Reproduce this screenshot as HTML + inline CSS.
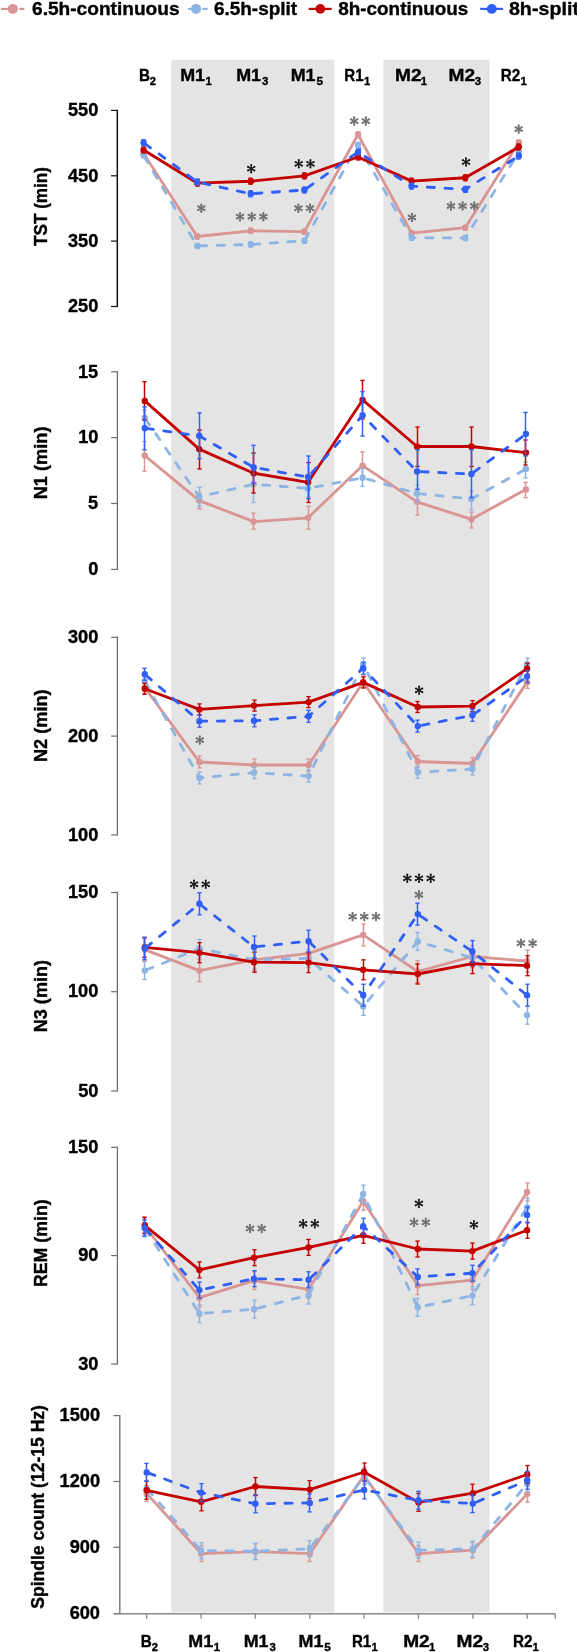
<!DOCTYPE html>
<html><head><meta charset="utf-8"><title>Sleep chart</title>
<style>
html,body{margin:0;padding:0;background:#fff;}
body{width:577px;height:1652px;overflow:hidden;}
svg{display:block;font-family:"Liberation Sans", sans-serif;will-change:transform;}
</style></head>
<body>
<svg width="577" height="1652" viewBox="0 0 577 1652">
<rect width="577" height="1652" fill="#fff"/>
<defs><g id="ast" fill="currentColor" stroke="currentColor"><path d="M0,-3.7V3.7M-3.2,-1.85L3.2,1.85M-3.2,1.85L3.2,-1.85" stroke-width="1.5" fill="none"/><circle cx="0" cy="-3.7" r="1.05" stroke="none"/><circle cx="0" cy="3.7" r="1.05" stroke="none"/><circle cx="-3.2" cy="-1.85" r="1.05" stroke="none"/><circle cx="3.2" cy="-1.85" r="1.05" stroke="none"/><circle cx="-3.2" cy="1.85" r="1.05" stroke="none"/><circle cx="3.2" cy="1.85" r="1.05" stroke="none"/><circle cx="0" cy="0" r="1.3" stroke="none"/></g><g id="astg" fill="currentColor" stroke="currentColor"><path d="M0,-3.7V3.7M-3.2,-1.85L3.2,1.85M-3.2,1.85L3.2,-1.85" stroke-width="1.75" fill="none"/><circle cx="0" cy="-3.7" r="1.1" stroke="none"/><circle cx="0" cy="3.7" r="1.1" stroke="none"/><circle cx="-3.2" cy="-1.85" r="1.1" stroke="none"/><circle cx="3.2" cy="-1.85" r="1.1" stroke="none"/><circle cx="-3.2" cy="1.85" r="1.1" stroke="none"/><circle cx="3.2" cy="1.85" r="1.1" stroke="none"/><circle cx="0" cy="0" r="1.3" stroke="none"/></g></defs>
<rect x="171.2" y="59.7" width="163.0" height="1552.6" fill="#E4E4E4"/>
<rect x="383.5" y="59.7" width="106.0" height="1552.6" fill="#E4E4E4"/>
<line x1="1" y1="8.9" x2="12.7" y2="8.9" stroke="#D99594" stroke-width="2.2"/>
<line x1="19.2" y1="8.9" x2="24.4" y2="8.9" stroke="#D99594" stroke-width="2.2"/>
<circle cx="12.8" cy="8.9" r="5.0" fill="#D99594"/>
<text transform="translate(32.04,14.60) scale(1.0736,1)" font-size="17.8" font-weight="bold" fill="#000" stroke="#000" stroke-width="0.35">6.5h-continuous</text>
<line x1="188" y1="8.9" x2="196" y2="8.9" stroke="#8DB4E2" stroke-width="2.2"/>
<line x1="202.3" y1="8.9" x2="207.7" y2="8.9" stroke="#8DB4E2" stroke-width="2.2"/>
<circle cx="196.1" cy="8.9" r="5.0" fill="#8DB4E2"/>
<text transform="translate(213.94,14.60) scale(1.0653,1)" font-size="17.8" font-weight="bold" fill="#000" stroke="#000" stroke-width="0.35">6.5h-split</text>
<line x1="308.7" y1="8.9" x2="331.7" y2="8.9" stroke="#C40000" stroke-width="2.2"/>
<circle cx="320.3" cy="8.9" r="4.85" fill="#C40000"/>
<text transform="translate(338.23,14.60) scale(1.0618,1)" font-size="17.8" font-weight="bold" fill="#000" stroke="#000" stroke-width="0.35">8h-continuous</text>
<line x1="480.2" y1="8.9" x2="503.1" y2="8.9" stroke="#305FF6" stroke-width="2.2"/>
<circle cx="491.8" cy="8.9" r="4.95" fill="#305FF6"/>
<text transform="translate(508.91,14.60) scale(1.1076,1)" font-size="17.8" font-weight="bold" fill="#000" stroke="#000" stroke-width="0.35">8h-split</text>
<text transform="translate(138.93,80.70) scale(0.9589,1)" font-size="15.9" font-weight="bold" fill="#000" stroke="#000" stroke-width="0.35">B</text>
<text transform="translate(149.86,84.90) scale(1.0112,1)" font-size="11.1" font-weight="bold" fill="#000" stroke="#000" stroke-width="0.35">2</text>
<text transform="translate(180.15,80.70) scale(1.1262,1)" font-size="15.9" font-weight="bold" fill="#000" stroke="#000" stroke-width="0.35">M1</text>
<text transform="translate(205.62,84.90) scale(1.0159,1)" font-size="11.1" font-weight="bold" fill="#000" stroke="#000" stroke-width="0.35">1</text>
<text transform="translate(236.15,80.70) scale(1.1262,1)" font-size="15.9" font-weight="bold" fill="#000" stroke="#000" stroke-width="0.35">M1</text>
<text transform="translate(262.07,84.90) scale(1.0270,1)" font-size="11.1" font-weight="bold" fill="#000" stroke="#000" stroke-width="0.35">3</text>
<text transform="translate(290.65,80.70) scale(1.1262,1)" font-size="15.9" font-weight="bold" fill="#000" stroke="#000" stroke-width="0.35">M1</text>
<text transform="translate(316.45,84.90) scale(1.0631,1)" font-size="11.1" font-weight="bold" fill="#000" stroke="#000" stroke-width="0.35">5</text>
<text transform="translate(344.34,80.70) scale(0.9487,1)" font-size="15.9" font-weight="bold" fill="#000" stroke="#000" stroke-width="0.35">R1</text>
<text transform="translate(364.02,84.90) scale(1.0159,1)" font-size="11.1" font-weight="bold" fill="#000" stroke="#000" stroke-width="0.35">1</text>
<text transform="translate(395.06,80.70) scale(1.2038,1)" font-size="15.9" font-weight="bold" fill="#000" stroke="#000" stroke-width="0.35">M2</text>
<text transform="translate(420.82,84.90) scale(1.0159,1)" font-size="11.1" font-weight="bold" fill="#000" stroke="#000" stroke-width="0.35">1</text>
<text transform="translate(448.56,80.70) scale(1.2038,1)" font-size="15.9" font-weight="bold" fill="#000" stroke="#000" stroke-width="0.35">M2</text>
<text transform="translate(474.77,84.90) scale(1.0270,1)" font-size="11.1" font-weight="bold" fill="#000" stroke="#000" stroke-width="0.35">3</text>
<text transform="translate(500.83,80.70) scale(0.9622,1)" font-size="15.9" font-weight="bold" fill="#000" stroke="#000" stroke-width="0.35">R2</text>
<text transform="translate(520.42,84.90) scale(1.0159,1)" font-size="11.1" font-weight="bold" fill="#000" stroke="#000" stroke-width="0.35">1</text>
<text transform="translate(140.83,1646.80) scale(0.9589,1)" font-size="15.9" font-weight="bold" fill="#000" stroke="#000" stroke-width="0.35">B</text>
<text transform="translate(151.76,1651.00) scale(1.0112,1)" font-size="11.1" font-weight="bold" fill="#000" stroke="#000" stroke-width="0.35">2</text>
<text transform="translate(188.25,1646.80) scale(1.1262,1)" font-size="15.9" font-weight="bold" fill="#000" stroke="#000" stroke-width="0.35">M1</text>
<text transform="translate(213.72,1651.00) scale(1.0159,1)" font-size="11.1" font-weight="bold" fill="#000" stroke="#000" stroke-width="0.35">1</text>
<text transform="translate(243.65,1646.80) scale(1.1262,1)" font-size="15.9" font-weight="bold" fill="#000" stroke="#000" stroke-width="0.35">M1</text>
<text transform="translate(269.57,1651.00) scale(1.0270,1)" font-size="11.1" font-weight="bold" fill="#000" stroke="#000" stroke-width="0.35">3</text>
<text transform="translate(298.55,1646.80) scale(1.1262,1)" font-size="15.9" font-weight="bold" fill="#000" stroke="#000" stroke-width="0.35">M1</text>
<text transform="translate(324.35,1651.00) scale(1.0631,1)" font-size="11.1" font-weight="bold" fill="#000" stroke="#000" stroke-width="0.35">5</text>
<text transform="translate(351.94,1646.80) scale(0.9487,1)" font-size="15.9" font-weight="bold" fill="#000" stroke="#000" stroke-width="0.35">R1</text>
<text transform="translate(371.62,1651.00) scale(1.0159,1)" font-size="11.1" font-weight="bold" fill="#000" stroke="#000" stroke-width="0.35">1</text>
<text transform="translate(403.16,1646.80) scale(1.2038,1)" font-size="15.9" font-weight="bold" fill="#000" stroke="#000" stroke-width="0.35">M2</text>
<text transform="translate(428.92,1651.00) scale(1.0159,1)" font-size="11.1" font-weight="bold" fill="#000" stroke="#000" stroke-width="0.35">1</text>
<text transform="translate(456.46,1646.80) scale(1.2038,1)" font-size="15.9" font-weight="bold" fill="#000" stroke="#000" stroke-width="0.35">M2</text>
<text transform="translate(482.67,1651.00) scale(1.0270,1)" font-size="11.1" font-weight="bold" fill="#000" stroke="#000" stroke-width="0.35">3</text>
<text transform="translate(512.93,1646.80) scale(0.9622,1)" font-size="15.9" font-weight="bold" fill="#000" stroke="#000" stroke-width="0.35">R2</text>
<text transform="translate(532.52,1651.00) scale(1.0159,1)" font-size="11.1" font-weight="bold" fill="#000" stroke="#000" stroke-width="0.35">1</text>
<line x1="117.3" y1="109.80000000000001" x2="117.3" y2="307.1" stroke="#111" stroke-width="1.5"/>
<line x1="111.0" y1="110.4" x2="117.3" y2="110.4" stroke="#111" stroke-width="1.2"/>
<text transform="translate(67.93,116.10) scale(1.0400,1)" font-size="17.5" font-weight="bold" stroke="#000" stroke-width="0.35">550</text>
<line x1="111.0" y1="175.8" x2="117.3" y2="175.8" stroke="#111" stroke-width="1.2"/>
<text transform="translate(67.93,181.50) scale(1.0400,1)" font-size="17.5" font-weight="bold" stroke="#000" stroke-width="0.35">450</text>
<line x1="111.0" y1="241.1" x2="117.3" y2="241.1" stroke="#111" stroke-width="1.2"/>
<text transform="translate(67.93,246.80) scale(1.0400,1)" font-size="17.5" font-weight="bold" stroke="#000" stroke-width="0.35">350</text>
<line x1="111.0" y1="306.5" x2="117.3" y2="306.5" stroke="#111" stroke-width="1.2"/>
<text transform="translate(67.93,312.20) scale(1.0400,1)" font-size="17.5" font-weight="bold" stroke="#000" stroke-width="0.35">250</text>
<text transform="translate(46.80,245.97) rotate(-90) scale(0.9524,1)" font-size="18.0" font-weight="bold" stroke="#000" stroke-width="0.35">TST (min)</text>
<line x1="143.5" y1="150.9" x2="143.5" y2="155.9" stroke="#D99594" stroke-width="1.5"/>
<line x1="141.3" y1="150.9" x2="145.7" y2="150.9" stroke="#D99594" stroke-width="1.3"/>
<line x1="141.3" y1="155.9" x2="145.7" y2="155.9" stroke="#D99594" stroke-width="1.3"/>
<line x1="197.5" y1="234.0" x2="197.5" y2="239.0" stroke="#D99594" stroke-width="1.5"/>
<line x1="195.3" y1="234.0" x2="199.7" y2="234.0" stroke="#D99594" stroke-width="1.3"/>
<line x1="195.3" y1="239.0" x2="199.7" y2="239.0" stroke="#D99594" stroke-width="1.3"/>
<line x1="250.5" y1="228.3" x2="250.5" y2="233.3" stroke="#D99594" stroke-width="1.5"/>
<line x1="248.3" y1="228.3" x2="252.7" y2="228.3" stroke="#D99594" stroke-width="1.3"/>
<line x1="248.3" y1="233.3" x2="252.7" y2="233.3" stroke="#D99594" stroke-width="1.3"/>
<line x1="304.5" y1="229.1" x2="304.5" y2="234.1" stroke="#D99594" stroke-width="1.5"/>
<line x1="302.3" y1="229.1" x2="306.7" y2="229.1" stroke="#D99594" stroke-width="1.3"/>
<line x1="302.3" y1="234.1" x2="306.7" y2="234.1" stroke="#D99594" stroke-width="1.3"/>
<line x1="358.5" y1="132.0" x2="358.5" y2="137.0" stroke="#D99594" stroke-width="1.5"/>
<line x1="356.3" y1="132.0" x2="360.7" y2="132.0" stroke="#D99594" stroke-width="1.3"/>
<line x1="356.3" y1="137.0" x2="360.7" y2="137.0" stroke="#D99594" stroke-width="1.3"/>
<line x1="411.5" y1="230.6" x2="411.5" y2="235.6" stroke="#D99594" stroke-width="1.5"/>
<line x1="409.3" y1="230.6" x2="413.7" y2="230.6" stroke="#D99594" stroke-width="1.3"/>
<line x1="409.3" y1="235.6" x2="413.7" y2="235.6" stroke="#D99594" stroke-width="1.3"/>
<line x1="465.5" y1="225.2" x2="465.5" y2="230.2" stroke="#D99594" stroke-width="1.5"/>
<line x1="463.3" y1="225.2" x2="467.7" y2="225.2" stroke="#D99594" stroke-width="1.3"/>
<line x1="463.3" y1="230.2" x2="467.7" y2="230.2" stroke="#D99594" stroke-width="1.3"/>
<line x1="518.5" y1="139.9" x2="518.5" y2="144.9" stroke="#D99594" stroke-width="1.5"/>
<line x1="516.3" y1="139.9" x2="520.7" y2="139.9" stroke="#D99594" stroke-width="1.3"/>
<line x1="516.3" y1="144.9" x2="520.7" y2="144.9" stroke="#D99594" stroke-width="1.3"/>
<polyline points="143.6,153.4 197.2,236.5 250.8,230.8 304.4,231.6 358.0,134.5 411.6,233.1 465.2,227.7 518.8,142.4" fill="none" stroke="#D99594" stroke-width="2.8" stroke-linejoin="round"/>
<circle cx="143.6" cy="153.4" r="3.2" fill="#D99594"/>
<circle cx="197.2" cy="236.5" r="3.2" fill="#D99594"/>
<circle cx="250.8" cy="230.8" r="3.2" fill="#D99594"/>
<circle cx="304.4" cy="231.6" r="3.2" fill="#D99594"/>
<circle cx="358.0" cy="134.5" r="3.2" fill="#D99594"/>
<circle cx="411.6" cy="233.1" r="3.2" fill="#D99594"/>
<circle cx="465.2" cy="227.7" r="3.2" fill="#D99594"/>
<circle cx="518.8" cy="142.4" r="3.2" fill="#D99594"/>
<line x1="143.5" y1="152.8" x2="143.5" y2="157.8" stroke="#8DB4E2" stroke-width="1.5"/>
<line x1="141.3" y1="152.8" x2="145.7" y2="152.8" stroke="#8DB4E2" stroke-width="1.3"/>
<line x1="141.3" y1="157.8" x2="145.7" y2="157.8" stroke="#8DB4E2" stroke-width="1.3"/>
<line x1="197.5" y1="243.5" x2="197.5" y2="248.5" stroke="#8DB4E2" stroke-width="1.5"/>
<line x1="195.3" y1="243.5" x2="199.7" y2="243.5" stroke="#8DB4E2" stroke-width="1.3"/>
<line x1="195.3" y1="248.5" x2="199.7" y2="248.5" stroke="#8DB4E2" stroke-width="1.3"/>
<line x1="250.5" y1="242.0" x2="250.5" y2="247.0" stroke="#8DB4E2" stroke-width="1.5"/>
<line x1="248.3" y1="242.0" x2="252.7" y2="242.0" stroke="#8DB4E2" stroke-width="1.3"/>
<line x1="248.3" y1="247.0" x2="252.7" y2="247.0" stroke="#8DB4E2" stroke-width="1.3"/>
<line x1="304.5" y1="238.3" x2="304.5" y2="243.3" stroke="#8DB4E2" stroke-width="1.5"/>
<line x1="302.3" y1="238.3" x2="306.7" y2="238.3" stroke="#8DB4E2" stroke-width="1.3"/>
<line x1="302.3" y1="243.3" x2="306.7" y2="243.3" stroke="#8DB4E2" stroke-width="1.3"/>
<line x1="358.5" y1="142.4" x2="358.5" y2="147.4" stroke="#8DB4E2" stroke-width="1.5"/>
<line x1="356.3" y1="142.4" x2="360.7" y2="142.4" stroke="#8DB4E2" stroke-width="1.3"/>
<line x1="356.3" y1="147.4" x2="360.7" y2="147.4" stroke="#8DB4E2" stroke-width="1.3"/>
<line x1="411.5" y1="235.3" x2="411.5" y2="240.3" stroke="#8DB4E2" stroke-width="1.5"/>
<line x1="409.3" y1="235.3" x2="413.7" y2="235.3" stroke="#8DB4E2" stroke-width="1.3"/>
<line x1="409.3" y1="240.3" x2="413.7" y2="240.3" stroke="#8DB4E2" stroke-width="1.3"/>
<line x1="465.5" y1="235.5" x2="465.5" y2="240.5" stroke="#8DB4E2" stroke-width="1.5"/>
<line x1="463.3" y1="235.5" x2="467.7" y2="235.5" stroke="#8DB4E2" stroke-width="1.3"/>
<line x1="463.3" y1="240.5" x2="467.7" y2="240.5" stroke="#8DB4E2" stroke-width="1.3"/>
<line x1="518.5" y1="149.8" x2="518.5" y2="154.8" stroke="#8DB4E2" stroke-width="1.5"/>
<line x1="516.3" y1="149.8" x2="520.7" y2="149.8" stroke="#8DB4E2" stroke-width="1.3"/>
<line x1="516.3" y1="154.8" x2="520.7" y2="154.8" stroke="#8DB4E2" stroke-width="1.3"/>
<polyline points="143.6,155.3 197.2,246.0 250.8,244.5 304.4,240.8 358.0,144.9 411.6,237.8 465.2,238.0 518.8,152.3" fill="none" stroke="#8DB4E2" stroke-width="2.8" stroke-linejoin="round" stroke-dasharray="7.20 10.50" stroke-dashoffset="-1.40" stroke-linecap="round"/>
<circle cx="143.6" cy="155.3" r="3.2" fill="#8DB4E2"/>
<circle cx="197.2" cy="246.0" r="3.2" fill="#8DB4E2"/>
<circle cx="250.8" cy="244.5" r="3.2" fill="#8DB4E2"/>
<circle cx="304.4" cy="240.8" r="3.2" fill="#8DB4E2"/>
<circle cx="358.0" cy="144.9" r="3.2" fill="#8DB4E2"/>
<circle cx="411.6" cy="237.8" r="3.2" fill="#8DB4E2"/>
<circle cx="465.2" cy="238.0" r="3.2" fill="#8DB4E2"/>
<circle cx="518.8" cy="152.3" r="3.2" fill="#8DB4E2"/>
<line x1="143.5" y1="147.0" x2="143.5" y2="153.0" stroke="#C40000" stroke-width="1.5"/>
<line x1="141.3" y1="147.0" x2="145.7" y2="147.0" stroke="#C40000" stroke-width="1.3"/>
<line x1="141.3" y1="153.0" x2="145.7" y2="153.0" stroke="#C40000" stroke-width="1.3"/>
<line x1="197.5" y1="180.1" x2="197.5" y2="186.1" stroke="#C40000" stroke-width="1.5"/>
<line x1="195.3" y1="180.1" x2="199.7" y2="180.1" stroke="#C40000" stroke-width="1.3"/>
<line x1="195.3" y1="186.1" x2="199.7" y2="186.1" stroke="#C40000" stroke-width="1.3"/>
<line x1="250.5" y1="178.2" x2="250.5" y2="184.2" stroke="#C40000" stroke-width="1.5"/>
<line x1="248.3" y1="178.2" x2="252.7" y2="178.2" stroke="#C40000" stroke-width="1.3"/>
<line x1="248.3" y1="184.2" x2="252.7" y2="184.2" stroke="#C40000" stroke-width="1.3"/>
<line x1="304.5" y1="172.9" x2="304.5" y2="178.9" stroke="#C40000" stroke-width="1.5"/>
<line x1="302.3" y1="172.9" x2="306.7" y2="172.9" stroke="#C40000" stroke-width="1.3"/>
<line x1="302.3" y1="178.9" x2="306.7" y2="178.9" stroke="#C40000" stroke-width="1.3"/>
<line x1="358.5" y1="154.0" x2="358.5" y2="160.0" stroke="#C40000" stroke-width="1.5"/>
<line x1="356.3" y1="154.0" x2="360.7" y2="154.0" stroke="#C40000" stroke-width="1.3"/>
<line x1="356.3" y1="160.0" x2="360.7" y2="160.0" stroke="#C40000" stroke-width="1.3"/>
<line x1="411.5" y1="178.1" x2="411.5" y2="184.1" stroke="#C40000" stroke-width="1.5"/>
<line x1="409.3" y1="178.1" x2="413.7" y2="178.1" stroke="#C40000" stroke-width="1.3"/>
<line x1="409.3" y1="184.1" x2="413.7" y2="184.1" stroke="#C40000" stroke-width="1.3"/>
<line x1="465.5" y1="174.8" x2="465.5" y2="180.8" stroke="#C40000" stroke-width="1.5"/>
<line x1="463.3" y1="174.8" x2="467.7" y2="174.8" stroke="#C40000" stroke-width="1.3"/>
<line x1="463.3" y1="180.8" x2="467.7" y2="180.8" stroke="#C40000" stroke-width="1.3"/>
<line x1="518.5" y1="144.0" x2="518.5" y2="150.0" stroke="#C40000" stroke-width="1.5"/>
<line x1="516.3" y1="144.0" x2="520.7" y2="144.0" stroke="#C40000" stroke-width="1.3"/>
<line x1="516.3" y1="150.0" x2="520.7" y2="150.0" stroke="#C40000" stroke-width="1.3"/>
<polyline points="143.6,150.0 197.2,183.1 250.8,181.2 304.4,175.9 358.0,157.0 411.6,181.1 465.2,177.8 518.8,147.0" fill="none" stroke="#C40000" stroke-width="2.9" stroke-linejoin="round"/>
<circle cx="143.6" cy="150.0" r="3.2" fill="#C40000"/>
<circle cx="197.2" cy="183.1" r="3.2" fill="#C40000"/>
<circle cx="250.8" cy="181.2" r="3.2" fill="#C40000"/>
<circle cx="304.4" cy="175.9" r="3.2" fill="#C40000"/>
<circle cx="358.0" cy="157.0" r="3.2" fill="#C40000"/>
<circle cx="411.6" cy="181.1" r="3.2" fill="#C40000"/>
<circle cx="465.2" cy="177.8" r="3.2" fill="#C40000"/>
<circle cx="518.8" cy="147.0" r="3.2" fill="#C40000"/>
<line x1="143.5" y1="139.7" x2="143.5" y2="145.7" stroke="#305FF6" stroke-width="1.5"/>
<line x1="141.3" y1="139.7" x2="145.7" y2="139.7" stroke="#305FF6" stroke-width="1.3"/>
<line x1="141.3" y1="145.7" x2="145.7" y2="145.7" stroke="#305FF6" stroke-width="1.3"/>
<line x1="197.5" y1="179.0" x2="197.5" y2="185.0" stroke="#305FF6" stroke-width="1.5"/>
<line x1="195.3" y1="179.0" x2="199.7" y2="179.0" stroke="#305FF6" stroke-width="1.3"/>
<line x1="195.3" y1="185.0" x2="199.7" y2="185.0" stroke="#305FF6" stroke-width="1.3"/>
<line x1="250.5" y1="190.8" x2="250.5" y2="196.8" stroke="#305FF6" stroke-width="1.5"/>
<line x1="248.3" y1="190.8" x2="252.7" y2="190.8" stroke="#305FF6" stroke-width="1.3"/>
<line x1="248.3" y1="196.8" x2="252.7" y2="196.8" stroke="#305FF6" stroke-width="1.3"/>
<line x1="304.5" y1="187.0" x2="304.5" y2="193.0" stroke="#305FF6" stroke-width="1.5"/>
<line x1="302.3" y1="187.0" x2="306.7" y2="187.0" stroke="#305FF6" stroke-width="1.3"/>
<line x1="302.3" y1="193.0" x2="306.7" y2="193.0" stroke="#305FF6" stroke-width="1.3"/>
<line x1="358.5" y1="149.0" x2="358.5" y2="155.0" stroke="#305FF6" stroke-width="1.5"/>
<line x1="356.3" y1="149.0" x2="360.7" y2="149.0" stroke="#305FF6" stroke-width="1.3"/>
<line x1="356.3" y1="155.0" x2="360.7" y2="155.0" stroke="#305FF6" stroke-width="1.3"/>
<line x1="411.5" y1="183.1" x2="411.5" y2="189.1" stroke="#305FF6" stroke-width="1.5"/>
<line x1="409.3" y1="183.1" x2="413.7" y2="183.1" stroke="#305FF6" stroke-width="1.3"/>
<line x1="409.3" y1="189.1" x2="413.7" y2="189.1" stroke="#305FF6" stroke-width="1.3"/>
<line x1="465.5" y1="186.4" x2="465.5" y2="192.4" stroke="#305FF6" stroke-width="1.5"/>
<line x1="463.3" y1="186.4" x2="467.7" y2="186.4" stroke="#305FF6" stroke-width="1.3"/>
<line x1="463.3" y1="192.4" x2="467.7" y2="192.4" stroke="#305FF6" stroke-width="1.3"/>
<line x1="518.5" y1="153.0" x2="518.5" y2="159.0" stroke="#305FF6" stroke-width="1.5"/>
<line x1="516.3" y1="153.0" x2="520.7" y2="153.0" stroke="#305FF6" stroke-width="1.3"/>
<line x1="516.3" y1="159.0" x2="520.7" y2="159.0" stroke="#305FF6" stroke-width="1.3"/>
<polyline points="143.6,142.7 197.2,182.0 250.8,193.8 304.4,190.0 358.0,152.0 411.6,186.1 465.2,189.4 518.8,156.0" fill="none" stroke="#305FF6" stroke-width="2.8" stroke-linejoin="round" stroke-dasharray="7.20 10.50" stroke-dashoffset="-1.40" stroke-linecap="round"/>
<circle cx="143.6" cy="142.7" r="3.2" fill="#305FF6"/>
<circle cx="197.2" cy="182.0" r="3.2" fill="#305FF6"/>
<circle cx="250.8" cy="193.8" r="3.2" fill="#305FF6"/>
<circle cx="304.4" cy="190.0" r="3.2" fill="#305FF6"/>
<circle cx="358.0" cy="152.0" r="3.2" fill="#305FF6"/>
<circle cx="411.6" cy="186.1" r="3.2" fill="#305FF6"/>
<circle cx="465.2" cy="189.4" r="3.2" fill="#305FF6"/>
<circle cx="518.8" cy="156.0" r="3.2" fill="#305FF6"/>
<use href="#astg" x="201.30" y="208.20" color="#737373"/>
<use href="#ast" x="251.20" y="168.70" color="#1A1A1A"/>
<use href="#astg" x="240.00" y="216.70" color="#737373"/>
<use href="#astg" x="251.70" y="216.70" color="#737373"/>
<use href="#astg" x="263.40" y="216.70" color="#737373"/>
<use href="#ast" x="298.75" y="163.80" color="#1A1A1A"/>
<use href="#ast" x="310.45" y="163.80" color="#1A1A1A"/>
<use href="#astg" x="298.35" y="208.20" color="#737373"/>
<use href="#astg" x="310.05" y="208.20" color="#737373"/>
<use href="#astg" x="354.15" y="121.10" color="#737373"/>
<use href="#astg" x="365.85" y="121.10" color="#737373"/>
<use href="#astg" x="412.00" y="217.50" color="#737373"/>
<use href="#ast" x="466.00" y="162.00" color="#1A1A1A"/>
<use href="#astg" x="450.90" y="206.00" color="#737373"/>
<use href="#astg" x="462.60" y="206.00" color="#737373"/>
<use href="#astg" x="474.30" y="206.00" color="#737373"/>
<use href="#astg" x="518.70" y="129.10" color="#737373"/>
<line x1="117.4" y1="371.2" x2="117.4" y2="570.0" stroke="#6E6E6E" stroke-width="1.3"/>
<line x1="111.10000000000001" y1="371.8" x2="117.4" y2="371.8" stroke="#6E6E6E" stroke-width="1.2"/>
<text transform="translate(77.94,377.50) scale(1.0400,1)" font-size="17.5" font-weight="bold" stroke="#000" stroke-width="0.35">15</text>
<line x1="111.10000000000001" y1="437.6" x2="117.4" y2="437.6" stroke="#6E6E6E" stroke-width="1.2"/>
<text transform="translate(78.13,443.30) scale(1.0400,1)" font-size="17.5" font-weight="bold" stroke="#000" stroke-width="0.35">10</text>
<line x1="111.10000000000001" y1="503.5" x2="117.4" y2="503.5" stroke="#6E6E6E" stroke-width="1.2"/>
<text transform="translate(87.95,509.20) scale(1.0400,1)" font-size="17.5" font-weight="bold" stroke="#000" stroke-width="0.35">5</text>
<line x1="111.10000000000001" y1="569.4" x2="117.4" y2="569.4" stroke="#6E6E6E" stroke-width="1.2"/>
<text transform="translate(88.32,575.10) scale(1.0400,1)" font-size="17.5" font-weight="bold" stroke="#000" stroke-width="0.35">0</text>
<text transform="translate(46.90,499.27) rotate(-90) scale(1.0109,1)" font-size="18.0" font-weight="bold" stroke="#000" stroke-width="0.35">N1 (min)</text>
<line x1="144.5" y1="441.5" x2="144.5" y2="471.2" stroke="#D99594" stroke-width="1.5"/>
<line x1="142.3" y1="441.5" x2="146.7" y2="441.5" stroke="#D99594" stroke-width="1.3"/>
<line x1="142.3" y1="471.2" x2="146.7" y2="471.2" stroke="#D99594" stroke-width="1.3"/>
<line x1="199.5" y1="493.0" x2="199.5" y2="509.0" stroke="#D99594" stroke-width="1.5"/>
<line x1="197.3" y1="493.0" x2="201.7" y2="493.0" stroke="#D99594" stroke-width="1.3"/>
<line x1="197.3" y1="509.0" x2="201.7" y2="509.0" stroke="#D99594" stroke-width="1.3"/>
<line x1="253.5" y1="513.2" x2="253.5" y2="529.2" stroke="#D99594" stroke-width="1.5"/>
<line x1="251.3" y1="513.2" x2="255.7" y2="513.2" stroke="#D99594" stroke-width="1.3"/>
<line x1="251.3" y1="529.2" x2="255.7" y2="529.2" stroke="#D99594" stroke-width="1.3"/>
<line x1="308.5" y1="506.3" x2="308.5" y2="529.2" stroke="#D99594" stroke-width="1.5"/>
<line x1="306.3" y1="506.3" x2="310.7" y2="506.3" stroke="#D99594" stroke-width="1.3"/>
<line x1="306.3" y1="529.2" x2="310.7" y2="529.2" stroke="#D99594" stroke-width="1.3"/>
<line x1="362.5" y1="451.9" x2="362.5" y2="479.0" stroke="#D99594" stroke-width="1.5"/>
<line x1="360.3" y1="451.9" x2="364.7" y2="451.9" stroke="#D99594" stroke-width="1.3"/>
<line x1="360.3" y1="479.0" x2="364.7" y2="479.0" stroke="#D99594" stroke-width="1.3"/>
<line x1="417.5" y1="489.4" x2="417.5" y2="515.1" stroke="#D99594" stroke-width="1.5"/>
<line x1="415.3" y1="489.4" x2="419.7" y2="489.4" stroke="#D99594" stroke-width="1.3"/>
<line x1="415.3" y1="515.1" x2="419.7" y2="515.1" stroke="#D99594" stroke-width="1.3"/>
<line x1="471.5" y1="512.2" x2="471.5" y2="528.0" stroke="#D99594" stroke-width="1.5"/>
<line x1="469.3" y1="512.2" x2="473.7" y2="512.2" stroke="#D99594" stroke-width="1.3"/>
<line x1="469.3" y1="528.0" x2="473.7" y2="528.0" stroke="#D99594" stroke-width="1.3"/>
<line x1="525.5" y1="482.3" x2="525.5" y2="497.7" stroke="#D99594" stroke-width="1.5"/>
<line x1="523.3" y1="482.3" x2="527.7" y2="482.3" stroke="#D99594" stroke-width="1.3"/>
<line x1="523.3" y1="497.7" x2="527.7" y2="497.7" stroke="#D99594" stroke-width="1.3"/>
<polyline points="144.8,455.6 199.2,500.6 253.7,521.6 308.1,517.8 362.6,465.6 417.0,501.8 471.4,519.3 525.9,489.4" fill="none" stroke="#D99594" stroke-width="2.8" stroke-linejoin="round"/>
<circle cx="144.8" cy="455.6" r="3.2" fill="#D99594"/>
<circle cx="199.2" cy="500.6" r="3.2" fill="#D99594"/>
<circle cx="253.7" cy="521.6" r="3.2" fill="#D99594"/>
<circle cx="308.1" cy="517.8" r="3.2" fill="#D99594"/>
<circle cx="362.6" cy="465.6" r="3.2" fill="#D99594"/>
<circle cx="417.0" cy="501.8" r="3.2" fill="#D99594"/>
<circle cx="471.4" cy="519.3" r="3.2" fill="#D99594"/>
<circle cx="525.9" cy="489.4" r="3.2" fill="#D99594"/>
<line x1="144.5" y1="410.0" x2="144.5" y2="426.0" stroke="#8DB4E2" stroke-width="1.5"/>
<line x1="142.3" y1="410.0" x2="146.7" y2="410.0" stroke="#8DB4E2" stroke-width="1.3"/>
<line x1="142.3" y1="426.0" x2="146.7" y2="426.0" stroke="#8DB4E2" stroke-width="1.3"/>
<line x1="199.5" y1="487.3" x2="199.5" y2="506.3" stroke="#8DB4E2" stroke-width="1.5"/>
<line x1="197.3" y1="487.3" x2="201.7" y2="487.3" stroke="#8DB4E2" stroke-width="1.3"/>
<line x1="197.3" y1="506.3" x2="201.7" y2="506.3" stroke="#8DB4E2" stroke-width="1.3"/>
<line x1="253.5" y1="475.8" x2="253.5" y2="502.5" stroke="#8DB4E2" stroke-width="1.5"/>
<line x1="251.3" y1="475.8" x2="255.7" y2="475.8" stroke="#8DB4E2" stroke-width="1.3"/>
<line x1="251.3" y1="502.5" x2="255.7" y2="502.5" stroke="#8DB4E2" stroke-width="1.3"/>
<line x1="308.5" y1="480.0" x2="308.5" y2="497.0" stroke="#8DB4E2" stroke-width="1.5"/>
<line x1="306.3" y1="480.0" x2="310.7" y2="480.0" stroke="#8DB4E2" stroke-width="1.3"/>
<line x1="306.3" y1="497.0" x2="310.7" y2="497.0" stroke="#8DB4E2" stroke-width="1.3"/>
<line x1="362.5" y1="468.6" x2="362.5" y2="486.4" stroke="#8DB4E2" stroke-width="1.5"/>
<line x1="360.3" y1="468.6" x2="364.7" y2="468.6" stroke="#8DB4E2" stroke-width="1.3"/>
<line x1="360.3" y1="486.4" x2="364.7" y2="486.4" stroke="#8DB4E2" stroke-width="1.3"/>
<line x1="417.5" y1="485.0" x2="417.5" y2="502.0" stroke="#8DB4E2" stroke-width="1.5"/>
<line x1="415.3" y1="485.0" x2="419.7" y2="485.0" stroke="#8DB4E2" stroke-width="1.3"/>
<line x1="415.3" y1="502.0" x2="419.7" y2="502.0" stroke="#8DB4E2" stroke-width="1.3"/>
<line x1="471.5" y1="491.4" x2="471.5" y2="510.0" stroke="#8DB4E2" stroke-width="1.5"/>
<line x1="469.3" y1="491.4" x2="473.7" y2="491.4" stroke="#8DB4E2" stroke-width="1.3"/>
<line x1="469.3" y1="510.0" x2="473.7" y2="510.0" stroke="#8DB4E2" stroke-width="1.3"/>
<line x1="525.5" y1="462.0" x2="525.5" y2="478.0" stroke="#8DB4E2" stroke-width="1.5"/>
<line x1="523.3" y1="462.0" x2="527.7" y2="462.0" stroke="#8DB4E2" stroke-width="1.3"/>
<line x1="523.3" y1="478.0" x2="527.7" y2="478.0" stroke="#8DB4E2" stroke-width="1.3"/>
<polyline points="144.8,417.9 199.2,496.8 253.7,484.2 308.1,488.4 362.6,477.7 417.0,493.5 471.4,498.9 525.9,469.0" fill="none" stroke="#8DB4E2" stroke-width="2.8" stroke-linejoin="round" stroke-dasharray="7.20 10.50" stroke-dashoffset="-1.40" stroke-linecap="round"/>
<circle cx="144.8" cy="417.9" r="3.2" fill="#8DB4E2"/>
<circle cx="199.2" cy="496.8" r="3.2" fill="#8DB4E2"/>
<circle cx="253.7" cy="484.2" r="3.2" fill="#8DB4E2"/>
<circle cx="308.1" cy="488.4" r="3.2" fill="#8DB4E2"/>
<circle cx="362.6" cy="477.7" r="3.2" fill="#8DB4E2"/>
<circle cx="417.0" cy="493.5" r="3.2" fill="#8DB4E2"/>
<circle cx="471.4" cy="498.9" r="3.2" fill="#8DB4E2"/>
<circle cx="525.9" cy="469.0" r="3.2" fill="#8DB4E2"/>
<line x1="144.5" y1="381.7" x2="144.5" y2="420.0" stroke="#C40000" stroke-width="1.5"/>
<line x1="142.3" y1="381.7" x2="146.7" y2="381.7" stroke="#C40000" stroke-width="1.3"/>
<line x1="142.3" y1="420.0" x2="146.7" y2="420.0" stroke="#C40000" stroke-width="1.3"/>
<line x1="199.5" y1="430.0" x2="199.5" y2="469.0" stroke="#C40000" stroke-width="1.5"/>
<line x1="197.3" y1="430.0" x2="201.7" y2="430.0" stroke="#C40000" stroke-width="1.3"/>
<line x1="197.3" y1="469.0" x2="201.7" y2="469.0" stroke="#C40000" stroke-width="1.3"/>
<line x1="253.5" y1="453.0" x2="253.5" y2="493.0" stroke="#C40000" stroke-width="1.5"/>
<line x1="251.3" y1="453.0" x2="255.7" y2="453.0" stroke="#C40000" stroke-width="1.3"/>
<line x1="251.3" y1="493.0" x2="255.7" y2="493.0" stroke="#C40000" stroke-width="1.3"/>
<line x1="308.5" y1="462.5" x2="308.5" y2="502.5" stroke="#C40000" stroke-width="1.5"/>
<line x1="306.3" y1="462.5" x2="310.7" y2="462.5" stroke="#C40000" stroke-width="1.3"/>
<line x1="306.3" y1="502.5" x2="310.7" y2="502.5" stroke="#C40000" stroke-width="1.3"/>
<line x1="362.5" y1="380.4" x2="362.5" y2="419.0" stroke="#C40000" stroke-width="1.5"/>
<line x1="360.3" y1="380.4" x2="364.7" y2="380.4" stroke="#C40000" stroke-width="1.3"/>
<line x1="360.3" y1="419.0" x2="364.7" y2="419.0" stroke="#C40000" stroke-width="1.3"/>
<line x1="417.5" y1="427.0" x2="417.5" y2="466.5" stroke="#C40000" stroke-width="1.5"/>
<line x1="415.3" y1="427.0" x2="419.7" y2="427.0" stroke="#C40000" stroke-width="1.3"/>
<line x1="415.3" y1="466.5" x2="419.7" y2="466.5" stroke="#C40000" stroke-width="1.3"/>
<line x1="471.5" y1="427.0" x2="471.5" y2="466.5" stroke="#C40000" stroke-width="1.5"/>
<line x1="469.3" y1="427.0" x2="473.7" y2="427.0" stroke="#C40000" stroke-width="1.3"/>
<line x1="469.3" y1="466.5" x2="473.7" y2="466.5" stroke="#C40000" stroke-width="1.3"/>
<line x1="525.5" y1="440.0" x2="525.5" y2="465.0" stroke="#C40000" stroke-width="1.5"/>
<line x1="523.3" y1="440.0" x2="527.7" y2="440.0" stroke="#C40000" stroke-width="1.3"/>
<line x1="523.3" y1="465.0" x2="527.7" y2="465.0" stroke="#C40000" stroke-width="1.3"/>
<polyline points="144.8,400.9 199.2,449.1 253.7,473.2 308.1,482.3 362.6,399.9 417.0,446.5 471.4,446.5 525.9,452.7" fill="none" stroke="#C40000" stroke-width="2.8" stroke-linejoin="round"/>
<circle cx="144.8" cy="400.9" r="3.2" fill="#C40000"/>
<circle cx="199.2" cy="449.1" r="3.2" fill="#C40000"/>
<circle cx="253.7" cy="473.2" r="3.2" fill="#C40000"/>
<circle cx="308.1" cy="482.3" r="3.2" fill="#C40000"/>
<circle cx="362.6" cy="399.9" r="3.2" fill="#C40000"/>
<circle cx="417.0" cy="446.5" r="3.2" fill="#C40000"/>
<circle cx="471.4" cy="446.5" r="3.2" fill="#C40000"/>
<circle cx="525.9" cy="452.7" r="3.2" fill="#C40000"/>
<line x1="144.5" y1="406.8" x2="144.5" y2="449.8" stroke="#305FF6" stroke-width="1.5"/>
<line x1="142.3" y1="406.8" x2="146.7" y2="406.8" stroke="#305FF6" stroke-width="1.3"/>
<line x1="142.3" y1="449.8" x2="146.7" y2="449.8" stroke="#305FF6" stroke-width="1.3"/>
<line x1="199.5" y1="412.9" x2="199.5" y2="458.7" stroke="#305FF6" stroke-width="1.5"/>
<line x1="197.3" y1="412.9" x2="201.7" y2="412.9" stroke="#305FF6" stroke-width="1.3"/>
<line x1="197.3" y1="458.7" x2="201.7" y2="458.7" stroke="#305FF6" stroke-width="1.3"/>
<line x1="253.5" y1="445.3" x2="253.5" y2="483.4" stroke="#305FF6" stroke-width="1.5"/>
<line x1="251.3" y1="445.3" x2="255.7" y2="445.3" stroke="#305FF6" stroke-width="1.3"/>
<line x1="251.3" y1="483.4" x2="255.7" y2="483.4" stroke="#305FF6" stroke-width="1.3"/>
<line x1="308.5" y1="456.0" x2="308.5" y2="498.7" stroke="#305FF6" stroke-width="1.5"/>
<line x1="306.3" y1="456.0" x2="310.7" y2="456.0" stroke="#305FF6" stroke-width="1.3"/>
<line x1="306.3" y1="498.7" x2="310.7" y2="498.7" stroke="#305FF6" stroke-width="1.3"/>
<line x1="362.5" y1="391.6" x2="362.5" y2="436.1" stroke="#305FF6" stroke-width="1.5"/>
<line x1="360.3" y1="391.6" x2="364.7" y2="391.6" stroke="#305FF6" stroke-width="1.3"/>
<line x1="360.3" y1="436.1" x2="364.7" y2="436.1" stroke="#305FF6" stroke-width="1.3"/>
<line x1="417.5" y1="449.8" x2="417.5" y2="489.4" stroke="#305FF6" stroke-width="1.5"/>
<line x1="415.3" y1="449.8" x2="419.7" y2="449.8" stroke="#305FF6" stroke-width="1.3"/>
<line x1="415.3" y1="489.4" x2="419.7" y2="489.4" stroke="#305FF6" stroke-width="1.3"/>
<line x1="471.5" y1="449.8" x2="471.5" y2="497.7" stroke="#305FF6" stroke-width="1.5"/>
<line x1="469.3" y1="449.8" x2="473.7" y2="449.8" stroke="#305FF6" stroke-width="1.3"/>
<line x1="469.3" y1="497.7" x2="473.7" y2="497.7" stroke="#305FF6" stroke-width="1.3"/>
<line x1="525.5" y1="412.4" x2="525.5" y2="456.0" stroke="#305FF6" stroke-width="1.5"/>
<line x1="523.3" y1="412.4" x2="527.7" y2="412.4" stroke="#305FF6" stroke-width="1.3"/>
<line x1="523.3" y1="456.0" x2="527.7" y2="456.0" stroke="#305FF6" stroke-width="1.3"/>
<polyline points="144.8,428.2 199.2,435.8 253.7,467.4 308.1,477.0 362.6,415.3 417.0,471.5 471.4,474.0 525.9,434.0" fill="none" stroke="#305FF6" stroke-width="2.8" stroke-linejoin="round" stroke-dasharray="7.20 10.50" stroke-dashoffset="-1.40" stroke-linecap="round"/>
<circle cx="144.8" cy="428.2" r="3.2" fill="#305FF6"/>
<circle cx="199.2" cy="435.8" r="3.2" fill="#305FF6"/>
<circle cx="253.7" cy="467.4" r="3.2" fill="#305FF6"/>
<circle cx="308.1" cy="477.0" r="3.2" fill="#305FF6"/>
<circle cx="362.6" cy="415.3" r="3.2" fill="#305FF6"/>
<circle cx="417.0" cy="471.5" r="3.2" fill="#305FF6"/>
<circle cx="471.4" cy="474.0" r="3.2" fill="#305FF6"/>
<circle cx="525.9" cy="434.0" r="3.2" fill="#305FF6"/>
<line x1="117.4" y1="636.6999999999999" x2="117.4" y2="835.5" stroke="#6E6E6E" stroke-width="1.3"/>
<line x1="111.10000000000001" y1="637.3" x2="117.4" y2="637.3" stroke="#6E6E6E" stroke-width="1.2"/>
<text transform="translate(67.93,643.00) scale(1.0400,1)" font-size="17.5" font-weight="bold" stroke="#000" stroke-width="0.35">300</text>
<line x1="111.10000000000001" y1="736.1" x2="117.4" y2="736.1" stroke="#6E6E6E" stroke-width="1.2"/>
<text transform="translate(67.93,741.80) scale(1.0400,1)" font-size="17.5" font-weight="bold" stroke="#000" stroke-width="0.35">200</text>
<line x1="111.10000000000001" y1="834.9" x2="117.4" y2="834.9" stroke="#6E6E6E" stroke-width="1.2"/>
<text transform="translate(67.93,840.60) scale(1.0400,1)" font-size="17.5" font-weight="bold" stroke="#000" stroke-width="0.35">100</text>
<text transform="translate(46.90,762.07) rotate(-90) scale(1.0109,1)" font-size="18.0" font-weight="bold" stroke="#000" stroke-width="0.35">N2 (min)</text>
<line x1="144.5" y1="681.7" x2="144.5" y2="693.7" stroke="#D99594" stroke-width="1.5"/>
<line x1="142.3" y1="681.7" x2="146.7" y2="681.7" stroke="#D99594" stroke-width="1.3"/>
<line x1="142.3" y1="693.7" x2="146.7" y2="693.7" stroke="#D99594" stroke-width="1.3"/>
<line x1="199.5" y1="756.0" x2="199.5" y2="768.0" stroke="#D99594" stroke-width="1.5"/>
<line x1="197.3" y1="756.0" x2="201.7" y2="756.0" stroke="#D99594" stroke-width="1.3"/>
<line x1="197.3" y1="768.0" x2="201.7" y2="768.0" stroke="#D99594" stroke-width="1.3"/>
<line x1="254.5" y1="759.0" x2="254.5" y2="771.0" stroke="#D99594" stroke-width="1.5"/>
<line x1="252.3" y1="759.0" x2="256.7" y2="759.0" stroke="#D99594" stroke-width="1.3"/>
<line x1="252.3" y1="771.0" x2="256.7" y2="771.0" stroke="#D99594" stroke-width="1.3"/>
<line x1="308.5" y1="759.0" x2="308.5" y2="771.0" stroke="#D99594" stroke-width="1.5"/>
<line x1="306.3" y1="759.0" x2="310.7" y2="759.0" stroke="#D99594" stroke-width="1.3"/>
<line x1="306.3" y1="771.0" x2="310.7" y2="771.0" stroke="#D99594" stroke-width="1.3"/>
<line x1="363.5" y1="676.0" x2="363.5" y2="688.0" stroke="#D99594" stroke-width="1.5"/>
<line x1="361.3" y1="676.0" x2="365.7" y2="676.0" stroke="#D99594" stroke-width="1.3"/>
<line x1="361.3" y1="688.0" x2="365.7" y2="688.0" stroke="#D99594" stroke-width="1.3"/>
<line x1="417.5" y1="755.5" x2="417.5" y2="767.5" stroke="#D99594" stroke-width="1.5"/>
<line x1="415.3" y1="755.5" x2="419.7" y2="755.5" stroke="#D99594" stroke-width="1.3"/>
<line x1="415.3" y1="767.5" x2="419.7" y2="767.5" stroke="#D99594" stroke-width="1.3"/>
<line x1="472.5" y1="757.5" x2="472.5" y2="769.5" stroke="#D99594" stroke-width="1.5"/>
<line x1="470.3" y1="757.5" x2="474.7" y2="757.5" stroke="#D99594" stroke-width="1.3"/>
<line x1="470.3" y1="769.5" x2="474.7" y2="769.5" stroke="#D99594" stroke-width="1.3"/>
<line x1="527.5" y1="676.4" x2="527.5" y2="688.4" stroke="#D99594" stroke-width="1.5"/>
<line x1="525.3" y1="676.4" x2="529.7" y2="676.4" stroke="#D99594" stroke-width="1.3"/>
<line x1="525.3" y1="688.4" x2="529.7" y2="688.4" stroke="#D99594" stroke-width="1.3"/>
<polyline points="144.8,687.7 199.4,762.0 254.0,765.0 308.6,765.0 363.2,682.0 417.8,761.5 472.4,763.5 527.0,682.4" fill="none" stroke="#D99594" stroke-width="2.8" stroke-linejoin="round"/>
<circle cx="144.8" cy="687.7" r="3.2" fill="#D99594"/>
<circle cx="199.4" cy="762.0" r="3.2" fill="#D99594"/>
<circle cx="254.0" cy="765.0" r="3.2" fill="#D99594"/>
<circle cx="308.6" cy="765.0" r="3.2" fill="#D99594"/>
<circle cx="363.2" cy="682.0" r="3.2" fill="#D99594"/>
<circle cx="417.8" cy="761.5" r="3.2" fill="#D99594"/>
<circle cx="472.4" cy="763.5" r="3.2" fill="#D99594"/>
<circle cx="527.0" cy="682.4" r="3.2" fill="#D99594"/>
<line x1="144.5" y1="675.2" x2="144.5" y2="687.2" stroke="#8DB4E2" stroke-width="1.5"/>
<line x1="142.3" y1="675.2" x2="146.7" y2="675.2" stroke="#8DB4E2" stroke-width="1.3"/>
<line x1="142.3" y1="687.2" x2="146.7" y2="687.2" stroke="#8DB4E2" stroke-width="1.3"/>
<line x1="199.5" y1="772.0" x2="199.5" y2="784.0" stroke="#8DB4E2" stroke-width="1.5"/>
<line x1="197.3" y1="772.0" x2="201.7" y2="772.0" stroke="#8DB4E2" stroke-width="1.3"/>
<line x1="197.3" y1="784.0" x2="201.7" y2="784.0" stroke="#8DB4E2" stroke-width="1.3"/>
<line x1="254.5" y1="766.7" x2="254.5" y2="778.7" stroke="#8DB4E2" stroke-width="1.5"/>
<line x1="252.3" y1="766.7" x2="256.7" y2="766.7" stroke="#8DB4E2" stroke-width="1.3"/>
<line x1="252.3" y1="778.7" x2="256.7" y2="778.7" stroke="#8DB4E2" stroke-width="1.3"/>
<line x1="308.5" y1="770.1" x2="308.5" y2="782.1" stroke="#8DB4E2" stroke-width="1.5"/>
<line x1="306.3" y1="770.1" x2="310.7" y2="770.1" stroke="#8DB4E2" stroke-width="1.3"/>
<line x1="306.3" y1="782.1" x2="310.7" y2="782.1" stroke="#8DB4E2" stroke-width="1.3"/>
<line x1="363.5" y1="658.1" x2="363.5" y2="670.1" stroke="#8DB4E2" stroke-width="1.5"/>
<line x1="361.3" y1="658.1" x2="365.7" y2="658.1" stroke="#8DB4E2" stroke-width="1.3"/>
<line x1="361.3" y1="670.1" x2="365.7" y2="670.1" stroke="#8DB4E2" stroke-width="1.3"/>
<line x1="417.5" y1="766.3" x2="417.5" y2="778.3" stroke="#8DB4E2" stroke-width="1.5"/>
<line x1="415.3" y1="766.3" x2="419.7" y2="766.3" stroke="#8DB4E2" stroke-width="1.3"/>
<line x1="415.3" y1="778.3" x2="419.7" y2="778.3" stroke="#8DB4E2" stroke-width="1.3"/>
<line x1="472.5" y1="763.0" x2="472.5" y2="775.0" stroke="#8DB4E2" stroke-width="1.5"/>
<line x1="470.3" y1="763.0" x2="474.7" y2="763.0" stroke="#8DB4E2" stroke-width="1.3"/>
<line x1="470.3" y1="775.0" x2="474.7" y2="775.0" stroke="#8DB4E2" stroke-width="1.3"/>
<line x1="527.5" y1="658.1" x2="527.5" y2="670.1" stroke="#8DB4E2" stroke-width="1.5"/>
<line x1="525.3" y1="658.1" x2="529.7" y2="658.1" stroke="#8DB4E2" stroke-width="1.3"/>
<line x1="525.3" y1="670.1" x2="529.7" y2="670.1" stroke="#8DB4E2" stroke-width="1.3"/>
<polyline points="144.8,681.2 199.4,778.0 254.0,772.7 308.6,776.1 363.2,664.1 417.8,772.3 472.4,769.0 527.0,664.1" fill="none" stroke="#8DB4E2" stroke-width="2.8" stroke-linejoin="round" stroke-dasharray="7.20 10.50" stroke-dashoffset="-1.40" stroke-linecap="round"/>
<circle cx="144.8" cy="681.2" r="3.2" fill="#8DB4E2"/>
<circle cx="199.4" cy="778.0" r="3.2" fill="#8DB4E2"/>
<circle cx="254.0" cy="772.7" r="3.2" fill="#8DB4E2"/>
<circle cx="308.6" cy="776.1" r="3.2" fill="#8DB4E2"/>
<circle cx="363.2" cy="664.1" r="3.2" fill="#8DB4E2"/>
<circle cx="417.8" cy="772.3" r="3.2" fill="#8DB4E2"/>
<circle cx="472.4" cy="769.0" r="3.2" fill="#8DB4E2"/>
<circle cx="527.0" cy="664.1" r="3.2" fill="#8DB4E2"/>
<line x1="144.5" y1="683.3" x2="144.5" y2="694.3" stroke="#C40000" stroke-width="1.5"/>
<line x1="142.3" y1="683.3" x2="146.7" y2="683.3" stroke="#C40000" stroke-width="1.3"/>
<line x1="142.3" y1="694.3" x2="146.7" y2="694.3" stroke="#C40000" stroke-width="1.3"/>
<line x1="199.5" y1="703.9" x2="199.5" y2="714.9" stroke="#C40000" stroke-width="1.5"/>
<line x1="197.3" y1="703.9" x2="201.7" y2="703.9" stroke="#C40000" stroke-width="1.3"/>
<line x1="197.3" y1="714.9" x2="201.7" y2="714.9" stroke="#C40000" stroke-width="1.3"/>
<line x1="254.5" y1="700.1" x2="254.5" y2="711.1" stroke="#C40000" stroke-width="1.5"/>
<line x1="252.3" y1="700.1" x2="256.7" y2="700.1" stroke="#C40000" stroke-width="1.3"/>
<line x1="252.3" y1="711.1" x2="256.7" y2="711.1" stroke="#C40000" stroke-width="1.3"/>
<line x1="308.5" y1="696.6" x2="308.5" y2="707.6" stroke="#C40000" stroke-width="1.5"/>
<line x1="306.3" y1="696.6" x2="310.7" y2="696.6" stroke="#C40000" stroke-width="1.3"/>
<line x1="306.3" y1="707.6" x2="310.7" y2="707.6" stroke="#C40000" stroke-width="1.3"/>
<line x1="363.5" y1="676.9" x2="363.5" y2="687.9" stroke="#C40000" stroke-width="1.5"/>
<line x1="361.3" y1="676.9" x2="365.7" y2="676.9" stroke="#C40000" stroke-width="1.3"/>
<line x1="361.3" y1="687.9" x2="365.7" y2="687.9" stroke="#C40000" stroke-width="1.3"/>
<line x1="417.5" y1="701.5" x2="417.5" y2="712.5" stroke="#C40000" stroke-width="1.5"/>
<line x1="415.3" y1="701.5" x2="419.7" y2="701.5" stroke="#C40000" stroke-width="1.3"/>
<line x1="415.3" y1="712.5" x2="419.7" y2="712.5" stroke="#C40000" stroke-width="1.3"/>
<line x1="472.5" y1="700.6" x2="472.5" y2="711.6" stroke="#C40000" stroke-width="1.5"/>
<line x1="470.3" y1="700.6" x2="474.7" y2="700.6" stroke="#C40000" stroke-width="1.3"/>
<line x1="470.3" y1="711.6" x2="474.7" y2="711.6" stroke="#C40000" stroke-width="1.3"/>
<line x1="527.5" y1="663.2" x2="527.5" y2="674.2" stroke="#C40000" stroke-width="1.5"/>
<line x1="525.3" y1="663.2" x2="529.7" y2="663.2" stroke="#C40000" stroke-width="1.3"/>
<line x1="525.3" y1="674.2" x2="529.7" y2="674.2" stroke="#C40000" stroke-width="1.3"/>
<polyline points="144.8,688.8 199.4,709.4 254.0,705.6 308.6,702.1 363.2,682.4 417.8,707.0 472.4,706.1 527.0,668.7" fill="none" stroke="#C40000" stroke-width="2.8" stroke-linejoin="round"/>
<circle cx="144.8" cy="688.8" r="3.2" fill="#C40000"/>
<circle cx="199.4" cy="709.4" r="3.2" fill="#C40000"/>
<circle cx="254.0" cy="705.6" r="3.2" fill="#C40000"/>
<circle cx="308.6" cy="702.1" r="3.2" fill="#C40000"/>
<circle cx="363.2" cy="682.4" r="3.2" fill="#C40000"/>
<circle cx="417.8" cy="707.0" r="3.2" fill="#C40000"/>
<circle cx="472.4" cy="706.1" r="3.2" fill="#C40000"/>
<circle cx="527.0" cy="668.7" r="3.2" fill="#C40000"/>
<line x1="144.5" y1="668.3" x2="144.5" y2="680.3" stroke="#305FF6" stroke-width="1.5"/>
<line x1="142.3" y1="668.3" x2="146.7" y2="668.3" stroke="#305FF6" stroke-width="1.3"/>
<line x1="142.3" y1="680.3" x2="146.7" y2="680.3" stroke="#305FF6" stroke-width="1.3"/>
<line x1="199.5" y1="715.2" x2="199.5" y2="727.2" stroke="#305FF6" stroke-width="1.5"/>
<line x1="197.3" y1="715.2" x2="201.7" y2="715.2" stroke="#305FF6" stroke-width="1.3"/>
<line x1="197.3" y1="727.2" x2="201.7" y2="727.2" stroke="#305FF6" stroke-width="1.3"/>
<line x1="254.5" y1="714.8" x2="254.5" y2="726.8" stroke="#305FF6" stroke-width="1.5"/>
<line x1="252.3" y1="714.8" x2="256.7" y2="714.8" stroke="#305FF6" stroke-width="1.3"/>
<line x1="252.3" y1="726.8" x2="256.7" y2="726.8" stroke="#305FF6" stroke-width="1.3"/>
<line x1="308.5" y1="710.3" x2="308.5" y2="722.3" stroke="#305FF6" stroke-width="1.5"/>
<line x1="306.3" y1="710.3" x2="310.7" y2="710.3" stroke="#305FF6" stroke-width="1.3"/>
<line x1="306.3" y1="722.3" x2="310.7" y2="722.3" stroke="#305FF6" stroke-width="1.3"/>
<line x1="363.5" y1="662.3" x2="363.5" y2="674.3" stroke="#305FF6" stroke-width="1.5"/>
<line x1="361.3" y1="662.3" x2="365.7" y2="662.3" stroke="#305FF6" stroke-width="1.3"/>
<line x1="361.3" y1="674.3" x2="365.7" y2="674.3" stroke="#305FF6" stroke-width="1.3"/>
<line x1="417.5" y1="720.1" x2="417.5" y2="732.1" stroke="#305FF6" stroke-width="1.5"/>
<line x1="415.3" y1="720.1" x2="419.7" y2="720.1" stroke="#305FF6" stroke-width="1.3"/>
<line x1="415.3" y1="732.1" x2="419.7" y2="732.1" stroke="#305FF6" stroke-width="1.3"/>
<line x1="472.5" y1="709.3" x2="472.5" y2="721.3" stroke="#305FF6" stroke-width="1.5"/>
<line x1="470.3" y1="709.3" x2="474.7" y2="709.3" stroke="#305FF6" stroke-width="1.3"/>
<line x1="470.3" y1="721.3" x2="474.7" y2="721.3" stroke="#305FF6" stroke-width="1.3"/>
<line x1="527.5" y1="670.6" x2="527.5" y2="682.6" stroke="#305FF6" stroke-width="1.5"/>
<line x1="525.3" y1="670.6" x2="529.7" y2="670.6" stroke="#305FF6" stroke-width="1.3"/>
<line x1="525.3" y1="682.6" x2="529.7" y2="682.6" stroke="#305FF6" stroke-width="1.3"/>
<polyline points="144.8,674.3 199.4,721.2 254.0,720.8 308.6,716.3 363.2,668.3 417.8,726.1 472.4,715.3 527.0,676.6" fill="none" stroke="#305FF6" stroke-width="2.8" stroke-linejoin="round" stroke-dasharray="7.20 10.50" stroke-dashoffset="-1.40" stroke-linecap="round"/>
<circle cx="144.8" cy="674.3" r="3.2" fill="#305FF6"/>
<circle cx="199.4" cy="721.2" r="3.2" fill="#305FF6"/>
<circle cx="254.0" cy="720.8" r="3.2" fill="#305FF6"/>
<circle cx="308.6" cy="716.3" r="3.2" fill="#305FF6"/>
<circle cx="363.2" cy="668.3" r="3.2" fill="#305FF6"/>
<circle cx="417.8" cy="726.1" r="3.2" fill="#305FF6"/>
<circle cx="472.4" cy="715.3" r="3.2" fill="#305FF6"/>
<circle cx="527.0" cy="676.6" r="3.2" fill="#305FF6"/>
<use href="#astg" x="199.80" y="740.10" color="#737373"/>
<use href="#ast" x="419.10" y="690.30" color="#1A1A1A"/>
<line x1="117.4" y1="891.9" x2="117.4" y2="1091.6" stroke="#6E6E6E" stroke-width="1.3"/>
<line x1="111.10000000000001" y1="892.5" x2="117.4" y2="892.5" stroke="#6E6E6E" stroke-width="1.2"/>
<text transform="translate(67.93,898.20) scale(1.0400,1)" font-size="17.5" font-weight="bold" stroke="#000" stroke-width="0.35">150</text>
<line x1="111.10000000000001" y1="991.7" x2="117.4" y2="991.7" stroke="#6E6E6E" stroke-width="1.2"/>
<text transform="translate(67.93,997.40) scale(1.0400,1)" font-size="17.5" font-weight="bold" stroke="#000" stroke-width="0.35">100</text>
<line x1="111.10000000000001" y1="1091" x2="117.4" y2="1091" stroke="#6E6E6E" stroke-width="1.2"/>
<text transform="translate(78.13,1096.70) scale(1.0400,1)" font-size="17.5" font-weight="bold" stroke="#000" stroke-width="0.35">50</text>
<text transform="translate(46.90,1032.27) rotate(-90) scale(1.0052,1)" font-size="18.0" font-weight="bold" stroke="#000" stroke-width="0.35">N3 (min)</text>
<line x1="144.5" y1="938.6" x2="144.5" y2="960.6" stroke="#D99594" stroke-width="1.5"/>
<line x1="142.3" y1="938.6" x2="146.7" y2="938.6" stroke="#D99594" stroke-width="1.3"/>
<line x1="142.3" y1="960.6" x2="146.7" y2="960.6" stroke="#D99594" stroke-width="1.3"/>
<line x1="199.5" y1="959.6" x2="199.5" y2="981.6" stroke="#D99594" stroke-width="1.5"/>
<line x1="197.3" y1="959.6" x2="201.7" y2="959.6" stroke="#D99594" stroke-width="1.3"/>
<line x1="197.3" y1="981.6" x2="201.7" y2="981.6" stroke="#D99594" stroke-width="1.3"/>
<line x1="254.5" y1="948.9" x2="254.5" y2="970.9" stroke="#D99594" stroke-width="1.5"/>
<line x1="252.3" y1="948.9" x2="256.7" y2="948.9" stroke="#D99594" stroke-width="1.3"/>
<line x1="252.3" y1="970.9" x2="256.7" y2="970.9" stroke="#D99594" stroke-width="1.3"/>
<line x1="308.5" y1="942.4" x2="308.5" y2="964.4" stroke="#D99594" stroke-width="1.5"/>
<line x1="306.3" y1="942.4" x2="310.7" y2="942.4" stroke="#D99594" stroke-width="1.3"/>
<line x1="306.3" y1="964.4" x2="310.7" y2="964.4" stroke="#D99594" stroke-width="1.3"/>
<line x1="363.5" y1="923.9" x2="363.5" y2="945.9" stroke="#D99594" stroke-width="1.5"/>
<line x1="361.3" y1="923.9" x2="365.7" y2="923.9" stroke="#D99594" stroke-width="1.3"/>
<line x1="361.3" y1="945.9" x2="365.7" y2="945.9" stroke="#D99594" stroke-width="1.3"/>
<line x1="417.5" y1="960.5" x2="417.5" y2="982.5" stroke="#D99594" stroke-width="1.5"/>
<line x1="415.3" y1="960.5" x2="419.7" y2="960.5" stroke="#D99594" stroke-width="1.3"/>
<line x1="415.3" y1="982.5" x2="419.7" y2="982.5" stroke="#D99594" stroke-width="1.3"/>
<line x1="472.5" y1="945.5" x2="472.5" y2="967.5" stroke="#D99594" stroke-width="1.5"/>
<line x1="470.3" y1="945.5" x2="474.7" y2="945.5" stroke="#D99594" stroke-width="1.3"/>
<line x1="470.3" y1="967.5" x2="474.7" y2="967.5" stroke="#D99594" stroke-width="1.3"/>
<line x1="527.5" y1="950.1" x2="527.5" y2="972.1" stroke="#D99594" stroke-width="1.5"/>
<line x1="525.3" y1="950.1" x2="529.7" y2="950.1" stroke="#D99594" stroke-width="1.3"/>
<line x1="525.3" y1="972.1" x2="529.7" y2="972.1" stroke="#D99594" stroke-width="1.3"/>
<polyline points="144.8,949.6 199.4,970.6 254.0,959.9 308.6,953.4 363.2,934.9 417.8,971.5 472.4,956.5 527.0,961.1" fill="none" stroke="#D99594" stroke-width="2.8" stroke-linejoin="round"/>
<circle cx="144.8" cy="949.6" r="3.2" fill="#D99594"/>
<circle cx="199.4" cy="970.6" r="3.2" fill="#D99594"/>
<circle cx="254.0" cy="959.9" r="3.2" fill="#D99594"/>
<circle cx="308.6" cy="953.4" r="3.2" fill="#D99594"/>
<circle cx="363.2" cy="934.9" r="3.2" fill="#D99594"/>
<circle cx="417.8" cy="971.5" r="3.2" fill="#D99594"/>
<circle cx="472.4" cy="956.5" r="3.2" fill="#D99594"/>
<circle cx="527.0" cy="961.1" r="3.2" fill="#D99594"/>
<line x1="144.5" y1="961.6" x2="144.5" y2="979.6" stroke="#8DB4E2" stroke-width="1.5"/>
<line x1="142.3" y1="961.6" x2="146.7" y2="961.6" stroke="#8DB4E2" stroke-width="1.3"/>
<line x1="142.3" y1="979.6" x2="146.7" y2="979.6" stroke="#8DB4E2" stroke-width="1.3"/>
<line x1="199.5" y1="939.5" x2="199.5" y2="957.5" stroke="#8DB4E2" stroke-width="1.5"/>
<line x1="197.3" y1="939.5" x2="201.7" y2="939.5" stroke="#8DB4E2" stroke-width="1.3"/>
<line x1="197.3" y1="957.5" x2="201.7" y2="957.5" stroke="#8DB4E2" stroke-width="1.3"/>
<line x1="254.5" y1="950.9" x2="254.5" y2="968.9" stroke="#8DB4E2" stroke-width="1.5"/>
<line x1="252.3" y1="950.9" x2="256.7" y2="950.9" stroke="#8DB4E2" stroke-width="1.3"/>
<line x1="252.3" y1="968.9" x2="256.7" y2="968.9" stroke="#8DB4E2" stroke-width="1.3"/>
<line x1="308.5" y1="949.4" x2="308.5" y2="967.4" stroke="#8DB4E2" stroke-width="1.5"/>
<line x1="306.3" y1="949.4" x2="310.7" y2="949.4" stroke="#8DB4E2" stroke-width="1.3"/>
<line x1="306.3" y1="967.4" x2="310.7" y2="967.4" stroke="#8DB4E2" stroke-width="1.3"/>
<line x1="363.5" y1="997.4" x2="363.5" y2="1015.4" stroke="#8DB4E2" stroke-width="1.5"/>
<line x1="361.3" y1="997.4" x2="365.7" y2="997.4" stroke="#8DB4E2" stroke-width="1.3"/>
<line x1="361.3" y1="1015.4" x2="365.7" y2="1015.4" stroke="#8DB4E2" stroke-width="1.3"/>
<line x1="417.5" y1="932.5" x2="417.5" y2="950.5" stroke="#8DB4E2" stroke-width="1.5"/>
<line x1="415.3" y1="932.5" x2="419.7" y2="932.5" stroke="#8DB4E2" stroke-width="1.3"/>
<line x1="415.3" y1="950.5" x2="419.7" y2="950.5" stroke="#8DB4E2" stroke-width="1.3"/>
<line x1="472.5" y1="948.8" x2="472.5" y2="966.8" stroke="#8DB4E2" stroke-width="1.5"/>
<line x1="470.3" y1="948.8" x2="474.7" y2="948.8" stroke="#8DB4E2" stroke-width="1.3"/>
<line x1="470.3" y1="966.8" x2="474.7" y2="966.8" stroke="#8DB4E2" stroke-width="1.3"/>
<line x1="527.5" y1="1006.2" x2="527.5" y2="1024.2" stroke="#8DB4E2" stroke-width="1.5"/>
<line x1="525.3" y1="1006.2" x2="529.7" y2="1006.2" stroke="#8DB4E2" stroke-width="1.3"/>
<line x1="525.3" y1="1024.2" x2="529.7" y2="1024.2" stroke="#8DB4E2" stroke-width="1.3"/>
<polyline points="144.8,970.6 199.4,948.5 254.0,959.9 308.6,958.4 363.2,1006.4 417.8,941.5 472.4,957.8 527.0,1015.2" fill="none" stroke="#8DB4E2" stroke-width="2.8" stroke-linejoin="round" stroke-dasharray="7.20 10.50" stroke-dashoffset="-1.40" stroke-linecap="round"/>
<circle cx="144.8" cy="970.6" r="3.2" fill="#8DB4E2"/>
<circle cx="199.4" cy="948.5" r="3.2" fill="#8DB4E2"/>
<circle cx="254.0" cy="959.9" r="3.2" fill="#8DB4E2"/>
<circle cx="308.6" cy="958.4" r="3.2" fill="#8DB4E2"/>
<circle cx="363.2" cy="1006.4" r="3.2" fill="#8DB4E2"/>
<circle cx="417.8" cy="941.5" r="3.2" fill="#8DB4E2"/>
<circle cx="472.4" cy="957.8" r="3.2" fill="#8DB4E2"/>
<circle cx="527.0" cy="1015.2" r="3.2" fill="#8DB4E2"/>
<line x1="144.5" y1="937.3" x2="144.5" y2="957.3" stroke="#C40000" stroke-width="1.5"/>
<line x1="142.3" y1="937.3" x2="146.7" y2="937.3" stroke="#C40000" stroke-width="1.3"/>
<line x1="142.3" y1="957.3" x2="146.7" y2="957.3" stroke="#C40000" stroke-width="1.3"/>
<line x1="199.5" y1="942.7" x2="199.5" y2="962.7" stroke="#C40000" stroke-width="1.5"/>
<line x1="197.3" y1="942.7" x2="201.7" y2="942.7" stroke="#C40000" stroke-width="1.3"/>
<line x1="197.3" y1="962.7" x2="201.7" y2="962.7" stroke="#C40000" stroke-width="1.3"/>
<line x1="254.5" y1="952.2" x2="254.5" y2="972.2" stroke="#C40000" stroke-width="1.5"/>
<line x1="252.3" y1="952.2" x2="256.7" y2="952.2" stroke="#C40000" stroke-width="1.3"/>
<line x1="252.3" y1="972.2" x2="256.7" y2="972.2" stroke="#C40000" stroke-width="1.3"/>
<line x1="308.5" y1="952.6" x2="308.5" y2="972.6" stroke="#C40000" stroke-width="1.5"/>
<line x1="306.3" y1="952.6" x2="310.7" y2="952.6" stroke="#C40000" stroke-width="1.3"/>
<line x1="306.3" y1="972.6" x2="310.7" y2="972.6" stroke="#C40000" stroke-width="1.3"/>
<line x1="363.5" y1="959.8" x2="363.5" y2="979.8" stroke="#C40000" stroke-width="1.5"/>
<line x1="361.3" y1="959.8" x2="365.7" y2="959.8" stroke="#C40000" stroke-width="1.3"/>
<line x1="361.3" y1="979.8" x2="365.7" y2="979.8" stroke="#C40000" stroke-width="1.3"/>
<line x1="417.5" y1="964.0" x2="417.5" y2="984.0" stroke="#C40000" stroke-width="1.5"/>
<line x1="415.3" y1="964.0" x2="419.7" y2="964.0" stroke="#C40000" stroke-width="1.3"/>
<line x1="415.3" y1="984.0" x2="419.7" y2="984.0" stroke="#C40000" stroke-width="1.3"/>
<line x1="472.5" y1="953.6" x2="472.5" y2="973.6" stroke="#C40000" stroke-width="1.5"/>
<line x1="470.3" y1="953.6" x2="474.7" y2="953.6" stroke="#C40000" stroke-width="1.3"/>
<line x1="470.3" y1="973.6" x2="474.7" y2="973.6" stroke="#C40000" stroke-width="1.3"/>
<line x1="527.5" y1="955.7" x2="527.5" y2="975.7" stroke="#C40000" stroke-width="1.5"/>
<line x1="525.3" y1="955.7" x2="529.7" y2="955.7" stroke="#C40000" stroke-width="1.3"/>
<line x1="525.3" y1="975.7" x2="529.7" y2="975.7" stroke="#C40000" stroke-width="1.3"/>
<polyline points="144.8,947.3 199.4,952.7 254.0,962.2 308.6,962.6 363.2,969.8 417.8,974.0 472.4,963.6 527.0,965.7" fill="none" stroke="#C40000" stroke-width="2.8" stroke-linejoin="round"/>
<circle cx="144.8" cy="947.3" r="3.2" fill="#C40000"/>
<circle cx="199.4" cy="952.7" r="3.2" fill="#C40000"/>
<circle cx="254.0" cy="962.2" r="3.2" fill="#C40000"/>
<circle cx="308.6" cy="962.6" r="3.2" fill="#C40000"/>
<circle cx="363.2" cy="969.8" r="3.2" fill="#C40000"/>
<circle cx="417.8" cy="974.0" r="3.2" fill="#C40000"/>
<circle cx="472.4" cy="963.6" r="3.2" fill="#C40000"/>
<circle cx="527.0" cy="965.7" r="3.2" fill="#C40000"/>
<line x1="144.5" y1="937.5" x2="144.5" y2="959.5" stroke="#305FF6" stroke-width="1.5"/>
<line x1="142.3" y1="937.5" x2="146.7" y2="937.5" stroke="#305FF6" stroke-width="1.3"/>
<line x1="142.3" y1="959.5" x2="146.7" y2="959.5" stroke="#305FF6" stroke-width="1.3"/>
<line x1="199.5" y1="892.8" x2="199.5" y2="914.8" stroke="#305FF6" stroke-width="1.5"/>
<line x1="197.3" y1="892.8" x2="201.7" y2="892.8" stroke="#305FF6" stroke-width="1.3"/>
<line x1="197.3" y1="914.8" x2="201.7" y2="914.8" stroke="#305FF6" stroke-width="1.3"/>
<line x1="254.5" y1="936.0" x2="254.5" y2="958.0" stroke="#305FF6" stroke-width="1.5"/>
<line x1="252.3" y1="936.0" x2="256.7" y2="936.0" stroke="#305FF6" stroke-width="1.3"/>
<line x1="252.3" y1="958.0" x2="256.7" y2="958.0" stroke="#305FF6" stroke-width="1.3"/>
<line x1="308.5" y1="930.2" x2="308.5" y2="952.2" stroke="#305FF6" stroke-width="1.5"/>
<line x1="306.3" y1="930.2" x2="310.7" y2="930.2" stroke="#305FF6" stroke-width="1.3"/>
<line x1="306.3" y1="952.2" x2="310.7" y2="952.2" stroke="#305FF6" stroke-width="1.3"/>
<line x1="363.5" y1="984.2" x2="363.5" y2="1006.2" stroke="#305FF6" stroke-width="1.5"/>
<line x1="361.3" y1="984.2" x2="365.7" y2="984.2" stroke="#305FF6" stroke-width="1.3"/>
<line x1="361.3" y1="1006.2" x2="365.7" y2="1006.2" stroke="#305FF6" stroke-width="1.3"/>
<line x1="417.5" y1="903.1" x2="417.5" y2="925.1" stroke="#305FF6" stroke-width="1.5"/>
<line x1="415.3" y1="903.1" x2="419.7" y2="903.1" stroke="#305FF6" stroke-width="1.3"/>
<line x1="415.3" y1="925.1" x2="419.7" y2="925.1" stroke="#305FF6" stroke-width="1.3"/>
<line x1="472.5" y1="940.5" x2="472.5" y2="962.5" stroke="#305FF6" stroke-width="1.5"/>
<line x1="470.3" y1="940.5" x2="474.7" y2="940.5" stroke="#305FF6" stroke-width="1.3"/>
<line x1="470.3" y1="962.5" x2="474.7" y2="962.5" stroke="#305FF6" stroke-width="1.3"/>
<line x1="527.5" y1="984.2" x2="527.5" y2="1006.2" stroke="#305FF6" stroke-width="1.5"/>
<line x1="525.3" y1="984.2" x2="529.7" y2="984.2" stroke="#305FF6" stroke-width="1.3"/>
<line x1="525.3" y1="1006.2" x2="529.7" y2="1006.2" stroke="#305FF6" stroke-width="1.3"/>
<polyline points="144.8,948.5 199.4,903.8 254.0,947.0 308.6,941.2 363.2,995.2 417.8,914.1 472.4,951.5 527.0,995.2" fill="none" stroke="#305FF6" stroke-width="2.8" stroke-linejoin="round" stroke-dasharray="7.20 10.50" stroke-dashoffset="-1.40" stroke-linecap="round"/>
<circle cx="144.8" cy="948.5" r="3.2" fill="#305FF6"/>
<circle cx="199.4" cy="903.8" r="3.2" fill="#305FF6"/>
<circle cx="254.0" cy="947.0" r="3.2" fill="#305FF6"/>
<circle cx="308.6" cy="941.2" r="3.2" fill="#305FF6"/>
<circle cx="363.2" cy="995.2" r="3.2" fill="#305FF6"/>
<circle cx="417.8" cy="914.1" r="3.2" fill="#305FF6"/>
<circle cx="472.4" cy="951.5" r="3.2" fill="#305FF6"/>
<circle cx="527.0" cy="995.2" r="3.2" fill="#305FF6"/>
<use href="#ast" x="194.05" y="884.30" color="#1A1A1A"/>
<use href="#ast" x="205.75" y="884.30" color="#1A1A1A"/>
<use href="#astg" x="352.60" y="916.60" color="#737373"/>
<use href="#astg" x="364.30" y="916.60" color="#737373"/>
<use href="#astg" x="376.00" y="916.60" color="#737373"/>
<use href="#ast" x="407.30" y="878.30" color="#1A1A1A"/>
<use href="#ast" x="419.00" y="878.30" color="#1A1A1A"/>
<use href="#ast" x="430.70" y="878.30" color="#1A1A1A"/>
<use href="#astg" x="418.90" y="894.80" color="#737373"/>
<use href="#astg" x="520.95" y="943.20" color="#737373"/>
<use href="#astg" x="532.65" y="943.20" color="#737373"/>
<line x1="117.4" y1="1146.7" x2="117.4" y2="1364.6" stroke="#6E6E6E" stroke-width="1.3"/>
<line x1="111.10000000000001" y1="1147.3" x2="117.4" y2="1147.3" stroke="#6E6E6E" stroke-width="1.2"/>
<text transform="translate(67.93,1153.00) scale(1.0400,1)" font-size="17.5" font-weight="bold" stroke="#000" stroke-width="0.35">150</text>
<line x1="111.10000000000001" y1="1255.6" x2="117.4" y2="1255.6" stroke="#6E6E6E" stroke-width="1.2"/>
<text transform="translate(78.13,1261.30) scale(1.0400,1)" font-size="17.5" font-weight="bold" stroke="#000" stroke-width="0.35">90</text>
<line x1="111.10000000000001" y1="1364" x2="117.4" y2="1364" stroke="#6E6E6E" stroke-width="1.2"/>
<text transform="translate(78.13,1369.70) scale(1.0400,1)" font-size="17.5" font-weight="bold" stroke="#000" stroke-width="0.35">30</text>
<text transform="translate(46.90,1287.04) rotate(-90) scale(0.9866,1)" font-size="18.0" font-weight="bold" stroke="#000" stroke-width="0.35">REM (min)</text>
<line x1="144.5" y1="1217.0" x2="144.5" y2="1235.0" stroke="#D99594" stroke-width="1.5"/>
<line x1="142.3" y1="1217.0" x2="146.7" y2="1217.0" stroke="#D99594" stroke-width="1.3"/>
<line x1="142.3" y1="1235.0" x2="146.7" y2="1235.0" stroke="#D99594" stroke-width="1.3"/>
<line x1="199.5" y1="1288.7" x2="199.5" y2="1306.7" stroke="#D99594" stroke-width="1.5"/>
<line x1="197.3" y1="1288.7" x2="201.7" y2="1288.7" stroke="#D99594" stroke-width="1.3"/>
<line x1="197.3" y1="1306.7" x2="201.7" y2="1306.7" stroke="#D99594" stroke-width="1.3"/>
<line x1="254.5" y1="1271.6" x2="254.5" y2="1289.6" stroke="#D99594" stroke-width="1.5"/>
<line x1="252.3" y1="1271.6" x2="256.7" y2="1271.6" stroke="#D99594" stroke-width="1.3"/>
<line x1="252.3" y1="1289.6" x2="256.7" y2="1289.6" stroke="#D99594" stroke-width="1.3"/>
<line x1="308.5" y1="1280.3" x2="308.5" y2="1298.3" stroke="#D99594" stroke-width="1.5"/>
<line x1="306.3" y1="1280.3" x2="310.7" y2="1280.3" stroke="#D99594" stroke-width="1.3"/>
<line x1="306.3" y1="1298.3" x2="310.7" y2="1298.3" stroke="#D99594" stroke-width="1.3"/>
<line x1="363.5" y1="1192.2" x2="363.5" y2="1210.2" stroke="#D99594" stroke-width="1.5"/>
<line x1="361.3" y1="1192.2" x2="365.7" y2="1192.2" stroke="#D99594" stroke-width="1.3"/>
<line x1="361.3" y1="1210.2" x2="365.7" y2="1210.2" stroke="#D99594" stroke-width="1.3"/>
<line x1="417.5" y1="1276.6" x2="417.5" y2="1294.6" stroke="#D99594" stroke-width="1.5"/>
<line x1="415.3" y1="1276.6" x2="419.7" y2="1276.6" stroke="#D99594" stroke-width="1.3"/>
<line x1="415.3" y1="1294.6" x2="419.7" y2="1294.6" stroke="#D99594" stroke-width="1.3"/>
<line x1="472.5" y1="1271.2" x2="472.5" y2="1289.2" stroke="#D99594" stroke-width="1.5"/>
<line x1="470.3" y1="1271.2" x2="474.7" y2="1271.2" stroke="#D99594" stroke-width="1.3"/>
<line x1="470.3" y1="1289.2" x2="474.7" y2="1289.2" stroke="#D99594" stroke-width="1.3"/>
<line x1="527.5" y1="1183.0" x2="527.5" y2="1201.0" stroke="#D99594" stroke-width="1.5"/>
<line x1="525.3" y1="1183.0" x2="529.7" y2="1183.0" stroke="#D99594" stroke-width="1.3"/>
<line x1="525.3" y1="1201.0" x2="529.7" y2="1201.0" stroke="#D99594" stroke-width="1.3"/>
<polyline points="144.8,1226.0 199.4,1297.7 254.0,1280.6 308.6,1289.3 363.2,1201.2 417.8,1285.6 472.4,1280.2 527.0,1192.0" fill="none" stroke="#D99594" stroke-width="2.8" stroke-linejoin="round"/>
<circle cx="144.8" cy="1226.0" r="3.2" fill="#D99594"/>
<circle cx="199.4" cy="1297.7" r="3.2" fill="#D99594"/>
<circle cx="254.0" cy="1280.6" r="3.2" fill="#D99594"/>
<circle cx="308.6" cy="1289.3" r="3.2" fill="#D99594"/>
<circle cx="363.2" cy="1201.2" r="3.2" fill="#D99594"/>
<circle cx="417.8" cy="1285.6" r="3.2" fill="#D99594"/>
<circle cx="472.4" cy="1280.2" r="3.2" fill="#D99594"/>
<circle cx="527.0" cy="1192.0" r="3.2" fill="#D99594"/>
<line x1="144.5" y1="1219.0" x2="144.5" y2="1237.0" stroke="#8DB4E2" stroke-width="1.5"/>
<line x1="142.3" y1="1219.0" x2="146.7" y2="1219.0" stroke="#8DB4E2" stroke-width="1.3"/>
<line x1="142.3" y1="1237.0" x2="146.7" y2="1237.0" stroke="#8DB4E2" stroke-width="1.3"/>
<line x1="199.5" y1="1304.7" x2="199.5" y2="1322.7" stroke="#8DB4E2" stroke-width="1.5"/>
<line x1="197.3" y1="1304.7" x2="201.7" y2="1304.7" stroke="#8DB4E2" stroke-width="1.3"/>
<line x1="197.3" y1="1322.7" x2="201.7" y2="1322.7" stroke="#8DB4E2" stroke-width="1.3"/>
<line x1="254.5" y1="1300.2" x2="254.5" y2="1318.2" stroke="#8DB4E2" stroke-width="1.5"/>
<line x1="252.3" y1="1300.2" x2="256.7" y2="1300.2" stroke="#8DB4E2" stroke-width="1.3"/>
<line x1="252.3" y1="1318.2" x2="256.7" y2="1318.2" stroke="#8DB4E2" stroke-width="1.3"/>
<line x1="308.5" y1="1286.0" x2="308.5" y2="1304.0" stroke="#8DB4E2" stroke-width="1.5"/>
<line x1="306.3" y1="1286.0" x2="310.7" y2="1286.0" stroke="#8DB4E2" stroke-width="1.3"/>
<line x1="306.3" y1="1304.0" x2="310.7" y2="1304.0" stroke="#8DB4E2" stroke-width="1.3"/>
<line x1="363.5" y1="1185.1" x2="363.5" y2="1203.1" stroke="#8DB4E2" stroke-width="1.5"/>
<line x1="361.3" y1="1185.1" x2="365.7" y2="1185.1" stroke="#8DB4E2" stroke-width="1.3"/>
<line x1="361.3" y1="1203.1" x2="365.7" y2="1203.1" stroke="#8DB4E2" stroke-width="1.3"/>
<line x1="417.5" y1="1298.3" x2="417.5" y2="1316.3" stroke="#8DB4E2" stroke-width="1.5"/>
<line x1="415.3" y1="1298.3" x2="419.7" y2="1298.3" stroke="#8DB4E2" stroke-width="1.3"/>
<line x1="415.3" y1="1316.3" x2="419.7" y2="1316.3" stroke="#8DB4E2" stroke-width="1.3"/>
<line x1="472.5" y1="1286.6" x2="472.5" y2="1304.6" stroke="#8DB4E2" stroke-width="1.5"/>
<line x1="470.3" y1="1286.6" x2="474.7" y2="1286.6" stroke="#8DB4E2" stroke-width="1.3"/>
<line x1="470.3" y1="1304.6" x2="474.7" y2="1304.6" stroke="#8DB4E2" stroke-width="1.3"/>
<line x1="527.5" y1="1198.4" x2="527.5" y2="1216.4" stroke="#8DB4E2" stroke-width="1.5"/>
<line x1="525.3" y1="1198.4" x2="529.7" y2="1198.4" stroke="#8DB4E2" stroke-width="1.3"/>
<line x1="525.3" y1="1216.4" x2="529.7" y2="1216.4" stroke="#8DB4E2" stroke-width="1.3"/>
<polyline points="144.8,1228.0 199.4,1313.7 254.0,1309.2 308.6,1295.0 363.2,1194.1 417.8,1307.3 472.4,1295.6 527.0,1207.4" fill="none" stroke="#8DB4E2" stroke-width="2.8" stroke-linejoin="round" stroke-dasharray="7.20 10.50" stroke-dashoffset="-1.40" stroke-linecap="round"/>
<circle cx="144.8" cy="1228.0" r="3.2" fill="#8DB4E2"/>
<circle cx="199.4" cy="1313.7" r="3.2" fill="#8DB4E2"/>
<circle cx="254.0" cy="1309.2" r="3.2" fill="#8DB4E2"/>
<circle cx="308.6" cy="1295.0" r="3.2" fill="#8DB4E2"/>
<circle cx="363.2" cy="1194.1" r="3.2" fill="#8DB4E2"/>
<circle cx="417.8" cy="1307.3" r="3.2" fill="#8DB4E2"/>
<circle cx="472.4" cy="1295.6" r="3.2" fill="#8DB4E2"/>
<circle cx="527.0" cy="1207.4" r="3.2" fill="#8DB4E2"/>
<line x1="144.5" y1="1217.3" x2="144.5" y2="1233.3" stroke="#C40000" stroke-width="1.5"/>
<line x1="142.3" y1="1217.3" x2="146.7" y2="1217.3" stroke="#C40000" stroke-width="1.3"/>
<line x1="142.3" y1="1233.3" x2="146.7" y2="1233.3" stroke="#C40000" stroke-width="1.3"/>
<line x1="199.5" y1="1261.9" x2="199.5" y2="1277.9" stroke="#C40000" stroke-width="1.5"/>
<line x1="197.3" y1="1261.9" x2="201.7" y2="1261.9" stroke="#C40000" stroke-width="1.3"/>
<line x1="197.3" y1="1277.9" x2="201.7" y2="1277.9" stroke="#C40000" stroke-width="1.3"/>
<line x1="254.5" y1="1249.7" x2="254.5" y2="1265.7" stroke="#C40000" stroke-width="1.5"/>
<line x1="252.3" y1="1249.7" x2="256.7" y2="1249.7" stroke="#C40000" stroke-width="1.3"/>
<line x1="252.3" y1="1265.7" x2="256.7" y2="1265.7" stroke="#C40000" stroke-width="1.3"/>
<line x1="308.5" y1="1239.4" x2="308.5" y2="1255.4" stroke="#C40000" stroke-width="1.5"/>
<line x1="306.3" y1="1239.4" x2="310.7" y2="1239.4" stroke="#C40000" stroke-width="1.3"/>
<line x1="306.3" y1="1255.4" x2="310.7" y2="1255.4" stroke="#C40000" stroke-width="1.3"/>
<line x1="363.5" y1="1227.3" x2="363.5" y2="1243.3" stroke="#C40000" stroke-width="1.5"/>
<line x1="361.3" y1="1227.3" x2="365.7" y2="1227.3" stroke="#C40000" stroke-width="1.3"/>
<line x1="361.3" y1="1243.3" x2="365.7" y2="1243.3" stroke="#C40000" stroke-width="1.3"/>
<line x1="417.5" y1="1241.0" x2="417.5" y2="1257.0" stroke="#C40000" stroke-width="1.5"/>
<line x1="415.3" y1="1241.0" x2="419.7" y2="1241.0" stroke="#C40000" stroke-width="1.3"/>
<line x1="415.3" y1="1257.0" x2="419.7" y2="1257.0" stroke="#C40000" stroke-width="1.3"/>
<line x1="472.5" y1="1243.1" x2="472.5" y2="1259.1" stroke="#C40000" stroke-width="1.5"/>
<line x1="470.3" y1="1243.1" x2="474.7" y2="1243.1" stroke="#C40000" stroke-width="1.3"/>
<line x1="470.3" y1="1259.1" x2="474.7" y2="1259.1" stroke="#C40000" stroke-width="1.3"/>
<line x1="527.5" y1="1222.3" x2="527.5" y2="1238.3" stroke="#C40000" stroke-width="1.5"/>
<line x1="525.3" y1="1222.3" x2="529.7" y2="1222.3" stroke="#C40000" stroke-width="1.3"/>
<line x1="525.3" y1="1238.3" x2="529.7" y2="1238.3" stroke="#C40000" stroke-width="1.3"/>
<polyline points="144.8,1225.3 199.4,1269.9 254.0,1257.7 308.6,1247.4 363.2,1235.3 417.8,1249.0 472.4,1251.1 527.0,1230.3" fill="none" stroke="#C40000" stroke-width="2.8" stroke-linejoin="round"/>
<circle cx="144.8" cy="1225.3" r="3.2" fill="#C40000"/>
<circle cx="199.4" cy="1269.9" r="3.2" fill="#C40000"/>
<circle cx="254.0" cy="1257.7" r="3.2" fill="#C40000"/>
<circle cx="308.6" cy="1247.4" r="3.2" fill="#C40000"/>
<circle cx="363.2" cy="1235.3" r="3.2" fill="#C40000"/>
<circle cx="417.8" cy="1249.0" r="3.2" fill="#C40000"/>
<circle cx="472.4" cy="1251.1" r="3.2" fill="#C40000"/>
<circle cx="527.0" cy="1230.3" r="3.2" fill="#C40000"/>
<line x1="144.5" y1="1220.0" x2="144.5" y2="1236.0" stroke="#305FF6" stroke-width="1.5"/>
<line x1="142.3" y1="1220.0" x2="146.7" y2="1220.0" stroke="#305FF6" stroke-width="1.3"/>
<line x1="142.3" y1="1236.0" x2="146.7" y2="1236.0" stroke="#305FF6" stroke-width="1.3"/>
<line x1="199.5" y1="1282.1" x2="199.5" y2="1298.1" stroke="#305FF6" stroke-width="1.5"/>
<line x1="197.3" y1="1282.1" x2="201.7" y2="1282.1" stroke="#305FF6" stroke-width="1.3"/>
<line x1="197.3" y1="1298.1" x2="201.7" y2="1298.1" stroke="#305FF6" stroke-width="1.3"/>
<line x1="254.5" y1="1270.7" x2="254.5" y2="1286.7" stroke="#305FF6" stroke-width="1.5"/>
<line x1="252.3" y1="1270.7" x2="256.7" y2="1270.7" stroke="#305FF6" stroke-width="1.3"/>
<line x1="252.3" y1="1286.7" x2="256.7" y2="1286.7" stroke="#305FF6" stroke-width="1.3"/>
<line x1="308.5" y1="1271.8" x2="308.5" y2="1287.8" stroke="#305FF6" stroke-width="1.5"/>
<line x1="306.3" y1="1271.8" x2="310.7" y2="1271.8" stroke="#305FF6" stroke-width="1.3"/>
<line x1="306.3" y1="1287.8" x2="310.7" y2="1287.8" stroke="#305FF6" stroke-width="1.3"/>
<line x1="363.5" y1="1218.2" x2="363.5" y2="1234.2" stroke="#305FF6" stroke-width="1.5"/>
<line x1="361.3" y1="1218.2" x2="365.7" y2="1218.2" stroke="#305FF6" stroke-width="1.3"/>
<line x1="361.3" y1="1234.2" x2="365.7" y2="1234.2" stroke="#305FF6" stroke-width="1.3"/>
<line x1="417.5" y1="1268.9" x2="417.5" y2="1284.9" stroke="#305FF6" stroke-width="1.5"/>
<line x1="415.3" y1="1268.9" x2="419.7" y2="1268.9" stroke="#305FF6" stroke-width="1.3"/>
<line x1="415.3" y1="1284.9" x2="419.7" y2="1284.9" stroke="#305FF6" stroke-width="1.3"/>
<line x1="472.5" y1="1265.2" x2="472.5" y2="1281.2" stroke="#305FF6" stroke-width="1.5"/>
<line x1="470.3" y1="1265.2" x2="474.7" y2="1265.2" stroke="#305FF6" stroke-width="1.3"/>
<line x1="470.3" y1="1281.2" x2="474.7" y2="1281.2" stroke="#305FF6" stroke-width="1.3"/>
<line x1="527.5" y1="1206.9" x2="527.5" y2="1222.9" stroke="#305FF6" stroke-width="1.5"/>
<line x1="525.3" y1="1206.9" x2="529.7" y2="1206.9" stroke="#305FF6" stroke-width="1.3"/>
<line x1="525.3" y1="1222.9" x2="529.7" y2="1222.9" stroke="#305FF6" stroke-width="1.3"/>
<polyline points="144.8,1228.0 199.4,1290.1 254.0,1278.7 308.6,1279.8 363.2,1226.2 417.8,1276.9 472.4,1273.2 527.0,1214.9" fill="none" stroke="#305FF6" stroke-width="2.8" stroke-linejoin="round" stroke-dasharray="7.20 10.50" stroke-dashoffset="-1.40" stroke-linecap="round"/>
<circle cx="144.8" cy="1228.0" r="3.2" fill="#305FF6"/>
<circle cx="199.4" cy="1290.1" r="3.2" fill="#305FF6"/>
<circle cx="254.0" cy="1278.7" r="3.2" fill="#305FF6"/>
<circle cx="308.6" cy="1279.8" r="3.2" fill="#305FF6"/>
<circle cx="363.2" cy="1226.2" r="3.2" fill="#305FF6"/>
<circle cx="417.8" cy="1276.9" r="3.2" fill="#305FF6"/>
<circle cx="472.4" cy="1273.2" r="3.2" fill="#305FF6"/>
<circle cx="527.0" cy="1214.9" r="3.2" fill="#305FF6"/>
<use href="#astg" x="249.95" y="1228.50" color="#737373"/>
<use href="#astg" x="261.65" y="1228.50" color="#737373"/>
<use href="#ast" x="303.15" y="1223.80" color="#1A1A1A"/>
<use href="#ast" x="314.85" y="1223.80" color="#1A1A1A"/>
<use href="#ast" x="418.90" y="1203.50" color="#1A1A1A"/>
<use href="#astg" x="414.05" y="1222.40" color="#737373"/>
<use href="#astg" x="425.75" y="1222.40" color="#737373"/>
<use href="#ast" x="473.90" y="1224.70" color="#1A1A1A"/>
<line x1="119.8" y1="1415.0" x2="119.8" y2="1614.3" stroke="#6E6E6E" stroke-width="1.3"/>
<line x1="113.5" y1="1415.6" x2="119.8" y2="1415.6" stroke="#6E6E6E" stroke-width="1.2"/>
<text transform="translate(59.62,1421.30) scale(1.0400,1)" font-size="17.5" font-weight="bold" stroke="#000" stroke-width="0.35">1500</text>
<line x1="113.5" y1="1481.5" x2="119.8" y2="1481.5" stroke="#6E6E6E" stroke-width="1.2"/>
<text transform="translate(59.62,1487.20) scale(1.0400,1)" font-size="17.5" font-weight="bold" stroke="#000" stroke-width="0.35">1200</text>
<line x1="113.5" y1="1547.3" x2="119.8" y2="1547.3" stroke="#6E6E6E" stroke-width="1.2"/>
<text transform="translate(69.63,1553.00) scale(1.0400,1)" font-size="17.5" font-weight="bold" stroke="#000" stroke-width="0.35">900</text>
<line x1="113.5" y1="1613.7" x2="119.8" y2="1613.7" stroke="#6E6E6E" stroke-width="1.2"/>
<text transform="translate(69.63,1619.40) scale(1.0400,1)" font-size="17.5" font-weight="bold" stroke="#000" stroke-width="0.35">600</text>
<text transform="translate(44.10,1608.73) rotate(-90) scale(0.9698,1)" font-size="18.1" font-weight="bold" stroke="#000" stroke-width="0.35">Spindle count (12-15 Hz)</text>
<line x1="114.0" y1="1613.8" x2="555.3" y2="1613.8" stroke="#8A8A8A" stroke-width="1.6"/>
<line x1="146.7" y1="1613.8" x2="146.7" y2="1618.8" stroke="#8A8A8A" stroke-width="1.3"/>
<line x1="201.1" y1="1613.8" x2="201.1" y2="1618.8" stroke="#8A8A8A" stroke-width="1.3"/>
<line x1="255.4" y1="1613.8" x2="255.4" y2="1618.8" stroke="#8A8A8A" stroke-width="1.3"/>
<line x1="309.8" y1="1613.8" x2="309.8" y2="1618.8" stroke="#8A8A8A" stroke-width="1.3"/>
<line x1="364.1" y1="1613.8" x2="364.1" y2="1618.8" stroke="#8A8A8A" stroke-width="1.3"/>
<line x1="418.5" y1="1613.8" x2="418.5" y2="1618.8" stroke="#8A8A8A" stroke-width="1.3"/>
<line x1="472.9" y1="1613.8" x2="472.9" y2="1618.8" stroke="#8A8A8A" stroke-width="1.3"/>
<line x1="527.2" y1="1613.8" x2="527.2" y2="1618.8" stroke="#8A8A8A" stroke-width="1.3"/>
<line x1="555.3" y1="1613.8" x2="555.3" y2="1618.8" stroke="#8A8A8A" stroke-width="1.3"/>
<line x1="146.5" y1="1485.4" x2="146.5" y2="1501.4" stroke="#D99594" stroke-width="1.5"/>
<line x1="144.3" y1="1485.4" x2="148.7" y2="1485.4" stroke="#D99594" stroke-width="1.3"/>
<line x1="144.3" y1="1501.4" x2="148.7" y2="1501.4" stroke="#D99594" stroke-width="1.3"/>
<line x1="201.5" y1="1545.6" x2="201.5" y2="1561.6" stroke="#D99594" stroke-width="1.5"/>
<line x1="199.3" y1="1545.6" x2="203.7" y2="1545.6" stroke="#D99594" stroke-width="1.3"/>
<line x1="199.3" y1="1561.6" x2="203.7" y2="1561.6" stroke="#D99594" stroke-width="1.3"/>
<line x1="255.5" y1="1543.7" x2="255.5" y2="1559.7" stroke="#D99594" stroke-width="1.5"/>
<line x1="253.3" y1="1543.7" x2="257.7" y2="1543.7" stroke="#D99594" stroke-width="1.3"/>
<line x1="253.3" y1="1559.7" x2="257.7" y2="1559.7" stroke="#D99594" stroke-width="1.3"/>
<line x1="309.5" y1="1545.6" x2="309.5" y2="1561.6" stroke="#D99594" stroke-width="1.5"/>
<line x1="307.3" y1="1545.6" x2="311.7" y2="1545.6" stroke="#D99594" stroke-width="1.3"/>
<line x1="307.3" y1="1561.6" x2="311.7" y2="1561.6" stroke="#D99594" stroke-width="1.3"/>
<line x1="364.5" y1="1467.4" x2="364.5" y2="1483.4" stroke="#D99594" stroke-width="1.5"/>
<line x1="362.3" y1="1467.4" x2="366.7" y2="1467.4" stroke="#D99594" stroke-width="1.3"/>
<line x1="362.3" y1="1483.4" x2="366.7" y2="1483.4" stroke="#D99594" stroke-width="1.3"/>
<line x1="418.5" y1="1545.6" x2="418.5" y2="1561.6" stroke="#D99594" stroke-width="1.5"/>
<line x1="416.3" y1="1545.6" x2="420.7" y2="1545.6" stroke="#D99594" stroke-width="1.3"/>
<line x1="416.3" y1="1561.6" x2="420.7" y2="1561.6" stroke="#D99594" stroke-width="1.3"/>
<line x1="472.5" y1="1542.2" x2="472.5" y2="1558.2" stroke="#D99594" stroke-width="1.5"/>
<line x1="470.3" y1="1542.2" x2="474.7" y2="1542.2" stroke="#D99594" stroke-width="1.3"/>
<line x1="470.3" y1="1558.2" x2="474.7" y2="1558.2" stroke="#D99594" stroke-width="1.3"/>
<line x1="527.5" y1="1486.1" x2="527.5" y2="1502.1" stroke="#D99594" stroke-width="1.5"/>
<line x1="525.3" y1="1486.1" x2="529.7" y2="1486.1" stroke="#D99594" stroke-width="1.3"/>
<line x1="525.3" y1="1502.1" x2="529.7" y2="1502.1" stroke="#D99594" stroke-width="1.3"/>
<polyline points="146.7,1493.4 201.1,1553.6 255.4,1551.7 309.8,1553.6 364.1,1475.4 418.5,1553.6 472.9,1550.2 527.2,1494.1" fill="none" stroke="#D99594" stroke-width="2.8" stroke-linejoin="round"/>
<circle cx="146.7" cy="1493.4" r="3.2" fill="#D99594"/>
<circle cx="201.1" cy="1553.6" r="3.2" fill="#D99594"/>
<circle cx="255.4" cy="1551.7" r="3.2" fill="#D99594"/>
<circle cx="309.8" cy="1553.6" r="3.2" fill="#D99594"/>
<circle cx="364.1" cy="1475.4" r="3.2" fill="#D99594"/>
<circle cx="418.5" cy="1553.6" r="3.2" fill="#D99594"/>
<circle cx="472.9" cy="1550.2" r="3.2" fill="#D99594"/>
<circle cx="527.2" cy="1494.1" r="3.2" fill="#D99594"/>
<line x1="146.5" y1="1480.4" x2="146.5" y2="1496.4" stroke="#8DB4E2" stroke-width="1.5"/>
<line x1="144.3" y1="1480.4" x2="148.7" y2="1480.4" stroke="#8DB4E2" stroke-width="1.3"/>
<line x1="144.3" y1="1496.4" x2="148.7" y2="1496.4" stroke="#8DB4E2" stroke-width="1.3"/>
<line x1="201.5" y1="1542.6" x2="201.5" y2="1558.6" stroke="#8DB4E2" stroke-width="1.5"/>
<line x1="199.3" y1="1542.6" x2="203.7" y2="1542.6" stroke="#8DB4E2" stroke-width="1.3"/>
<line x1="199.3" y1="1558.6" x2="203.7" y2="1558.6" stroke="#8DB4E2" stroke-width="1.3"/>
<line x1="255.5" y1="1543.3" x2="255.5" y2="1559.3" stroke="#8DB4E2" stroke-width="1.5"/>
<line x1="253.3" y1="1543.3" x2="257.7" y2="1543.3" stroke="#8DB4E2" stroke-width="1.3"/>
<line x1="253.3" y1="1559.3" x2="257.7" y2="1559.3" stroke="#8DB4E2" stroke-width="1.3"/>
<line x1="309.5" y1="1540.7" x2="309.5" y2="1556.7" stroke="#8DB4E2" stroke-width="1.5"/>
<line x1="307.3" y1="1540.7" x2="311.7" y2="1540.7" stroke="#8DB4E2" stroke-width="1.3"/>
<line x1="307.3" y1="1556.7" x2="311.7" y2="1556.7" stroke="#8DB4E2" stroke-width="1.3"/>
<line x1="364.5" y1="1468.6" x2="364.5" y2="1484.6" stroke="#8DB4E2" stroke-width="1.5"/>
<line x1="362.3" y1="1468.6" x2="366.7" y2="1468.6" stroke="#8DB4E2" stroke-width="1.3"/>
<line x1="362.3" y1="1484.6" x2="366.7" y2="1484.6" stroke="#8DB4E2" stroke-width="1.3"/>
<line x1="418.5" y1="1542.2" x2="418.5" y2="1558.2" stroke="#8DB4E2" stroke-width="1.5"/>
<line x1="416.3" y1="1542.2" x2="420.7" y2="1542.2" stroke="#8DB4E2" stroke-width="1.3"/>
<line x1="416.3" y1="1558.2" x2="420.7" y2="1558.2" stroke="#8DB4E2" stroke-width="1.3"/>
<line x1="472.5" y1="1541.0" x2="472.5" y2="1557.0" stroke="#8DB4E2" stroke-width="1.5"/>
<line x1="470.3" y1="1541.0" x2="474.7" y2="1541.0" stroke="#8DB4E2" stroke-width="1.3"/>
<line x1="470.3" y1="1557.0" x2="474.7" y2="1557.0" stroke="#8DB4E2" stroke-width="1.3"/>
<line x1="527.5" y1="1475.7" x2="527.5" y2="1491.7" stroke="#8DB4E2" stroke-width="1.5"/>
<line x1="525.3" y1="1475.7" x2="529.7" y2="1475.7" stroke="#8DB4E2" stroke-width="1.3"/>
<line x1="525.3" y1="1491.7" x2="529.7" y2="1491.7" stroke="#8DB4E2" stroke-width="1.3"/>
<polyline points="146.7,1488.4 201.1,1550.6 255.4,1551.3 309.8,1548.7 364.1,1476.6 418.5,1550.2 472.9,1549.0 527.2,1483.7" fill="none" stroke="#8DB4E2" stroke-width="2.8" stroke-linejoin="round" stroke-dasharray="7.20 10.50" stroke-dashoffset="-1.40" stroke-linecap="round"/>
<circle cx="146.7" cy="1488.4" r="3.2" fill="#8DB4E2"/>
<circle cx="201.1" cy="1550.6" r="3.2" fill="#8DB4E2"/>
<circle cx="255.4" cy="1551.3" r="3.2" fill="#8DB4E2"/>
<circle cx="309.8" cy="1548.7" r="3.2" fill="#8DB4E2"/>
<circle cx="364.1" cy="1476.6" r="3.2" fill="#8DB4E2"/>
<circle cx="418.5" cy="1550.2" r="3.2" fill="#8DB4E2"/>
<circle cx="472.9" cy="1549.0" r="3.2" fill="#8DB4E2"/>
<circle cx="527.2" cy="1483.7" r="3.2" fill="#8DB4E2"/>
<line x1="146.5" y1="1481.3" x2="146.5" y2="1499.3" stroke="#C40000" stroke-width="1.5"/>
<line x1="144.3" y1="1481.3" x2="148.7" y2="1481.3" stroke="#C40000" stroke-width="1.3"/>
<line x1="144.3" y1="1499.3" x2="148.7" y2="1499.3" stroke="#C40000" stroke-width="1.3"/>
<line x1="201.5" y1="1492.8" x2="201.5" y2="1510.8" stroke="#C40000" stroke-width="1.5"/>
<line x1="199.3" y1="1492.8" x2="203.7" y2="1492.8" stroke="#C40000" stroke-width="1.3"/>
<line x1="199.3" y1="1510.8" x2="203.7" y2="1510.8" stroke="#C40000" stroke-width="1.3"/>
<line x1="255.5" y1="1477.5" x2="255.5" y2="1495.5" stroke="#C40000" stroke-width="1.5"/>
<line x1="253.3" y1="1477.5" x2="257.7" y2="1477.5" stroke="#C40000" stroke-width="1.3"/>
<line x1="253.3" y1="1495.5" x2="257.7" y2="1495.5" stroke="#C40000" stroke-width="1.3"/>
<line x1="309.5" y1="1480.6" x2="309.5" y2="1498.6" stroke="#C40000" stroke-width="1.5"/>
<line x1="307.3" y1="1480.6" x2="311.7" y2="1480.6" stroke="#C40000" stroke-width="1.3"/>
<line x1="307.3" y1="1498.6" x2="311.7" y2="1498.6" stroke="#C40000" stroke-width="1.3"/>
<line x1="364.5" y1="1463.0" x2="364.5" y2="1481.0" stroke="#C40000" stroke-width="1.5"/>
<line x1="362.3" y1="1463.0" x2="366.7" y2="1463.0" stroke="#C40000" stroke-width="1.3"/>
<line x1="362.3" y1="1481.0" x2="366.7" y2="1481.0" stroke="#C40000" stroke-width="1.3"/>
<line x1="418.5" y1="1493.4" x2="418.5" y2="1511.4" stroke="#C40000" stroke-width="1.5"/>
<line x1="416.3" y1="1493.4" x2="420.7" y2="1493.4" stroke="#C40000" stroke-width="1.3"/>
<line x1="416.3" y1="1511.4" x2="420.7" y2="1511.4" stroke="#C40000" stroke-width="1.3"/>
<line x1="472.5" y1="1484.2" x2="472.5" y2="1502.2" stroke="#C40000" stroke-width="1.5"/>
<line x1="470.3" y1="1484.2" x2="474.7" y2="1484.2" stroke="#C40000" stroke-width="1.3"/>
<line x1="470.3" y1="1502.2" x2="474.7" y2="1502.2" stroke="#C40000" stroke-width="1.3"/>
<line x1="527.5" y1="1465.5" x2="527.5" y2="1483.5" stroke="#C40000" stroke-width="1.5"/>
<line x1="525.3" y1="1465.5" x2="529.7" y2="1465.5" stroke="#C40000" stroke-width="1.3"/>
<line x1="525.3" y1="1483.5" x2="529.7" y2="1483.5" stroke="#C40000" stroke-width="1.3"/>
<polyline points="146.7,1490.3 201.1,1501.8 255.4,1486.5 309.8,1489.6 364.1,1472.0 418.5,1502.4 472.9,1493.2 527.2,1474.5" fill="none" stroke="#C40000" stroke-width="2.8" stroke-linejoin="round"/>
<circle cx="146.7" cy="1490.3" r="3.2" fill="#C40000"/>
<circle cx="201.1" cy="1501.8" r="3.2" fill="#C40000"/>
<circle cx="255.4" cy="1486.5" r="3.2" fill="#C40000"/>
<circle cx="309.8" cy="1489.6" r="3.2" fill="#C40000"/>
<circle cx="364.1" cy="1472.0" r="3.2" fill="#C40000"/>
<circle cx="418.5" cy="1502.4" r="3.2" fill="#C40000"/>
<circle cx="472.9" cy="1493.2" r="3.2" fill="#C40000"/>
<circle cx="527.2" cy="1474.5" r="3.2" fill="#C40000"/>
<line x1="146.5" y1="1463.4" x2="146.5" y2="1481.4" stroke="#305FF6" stroke-width="1.5"/>
<line x1="144.3" y1="1463.4" x2="148.7" y2="1463.4" stroke="#305FF6" stroke-width="1.3"/>
<line x1="144.3" y1="1481.4" x2="148.7" y2="1481.4" stroke="#305FF6" stroke-width="1.3"/>
<line x1="201.5" y1="1483.6" x2="201.5" y2="1501.6" stroke="#305FF6" stroke-width="1.5"/>
<line x1="199.3" y1="1483.6" x2="203.7" y2="1483.6" stroke="#305FF6" stroke-width="1.3"/>
<line x1="199.3" y1="1501.6" x2="203.7" y2="1501.6" stroke="#305FF6" stroke-width="1.3"/>
<line x1="255.5" y1="1494.7" x2="255.5" y2="1512.7" stroke="#305FF6" stroke-width="1.5"/>
<line x1="253.3" y1="1494.7" x2="257.7" y2="1494.7" stroke="#305FF6" stroke-width="1.3"/>
<line x1="253.3" y1="1512.7" x2="257.7" y2="1512.7" stroke="#305FF6" stroke-width="1.3"/>
<line x1="309.5" y1="1493.9" x2="309.5" y2="1511.9" stroke="#305FF6" stroke-width="1.5"/>
<line x1="307.3" y1="1493.9" x2="311.7" y2="1493.9" stroke="#305FF6" stroke-width="1.3"/>
<line x1="307.3" y1="1511.9" x2="311.7" y2="1511.9" stroke="#305FF6" stroke-width="1.3"/>
<line x1="364.5" y1="1480.9" x2="364.5" y2="1498.9" stroke="#305FF6" stroke-width="1.5"/>
<line x1="362.3" y1="1480.9" x2="366.7" y2="1480.9" stroke="#305FF6" stroke-width="1.3"/>
<line x1="362.3" y1="1498.9" x2="366.7" y2="1498.9" stroke="#305FF6" stroke-width="1.3"/>
<line x1="418.5" y1="1491.3" x2="418.5" y2="1509.3" stroke="#305FF6" stroke-width="1.5"/>
<line x1="416.3" y1="1491.3" x2="420.7" y2="1491.3" stroke="#305FF6" stroke-width="1.3"/>
<line x1="416.3" y1="1509.3" x2="420.7" y2="1509.3" stroke="#305FF6" stroke-width="1.3"/>
<line x1="472.5" y1="1494.6" x2="472.5" y2="1512.6" stroke="#305FF6" stroke-width="1.5"/>
<line x1="470.3" y1="1494.6" x2="474.7" y2="1494.6" stroke="#305FF6" stroke-width="1.3"/>
<line x1="470.3" y1="1512.6" x2="474.7" y2="1512.6" stroke="#305FF6" stroke-width="1.3"/>
<line x1="527.5" y1="1471.3" x2="527.5" y2="1489.3" stroke="#305FF6" stroke-width="1.5"/>
<line x1="525.3" y1="1471.3" x2="529.7" y2="1471.3" stroke="#305FF6" stroke-width="1.3"/>
<line x1="525.3" y1="1489.3" x2="529.7" y2="1489.3" stroke="#305FF6" stroke-width="1.3"/>
<polyline points="146.7,1472.4 201.1,1492.6 255.4,1503.7 309.8,1502.9 364.1,1489.9 418.5,1500.3 472.9,1503.6 527.2,1480.3" fill="none" stroke="#305FF6" stroke-width="2.8" stroke-linejoin="round" stroke-dasharray="7.20 10.50" stroke-dashoffset="-1.40" stroke-linecap="round"/>
<circle cx="146.7" cy="1472.4" r="3.2" fill="#305FF6"/>
<circle cx="201.1" cy="1492.6" r="3.2" fill="#305FF6"/>
<circle cx="255.4" cy="1503.7" r="3.2" fill="#305FF6"/>
<circle cx="309.8" cy="1502.9" r="3.2" fill="#305FF6"/>
<circle cx="364.1" cy="1489.9" r="3.2" fill="#305FF6"/>
<circle cx="418.5" cy="1500.3" r="3.2" fill="#305FF6"/>
<circle cx="472.9" cy="1503.6" r="3.2" fill="#305FF6"/>
<circle cx="527.2" cy="1480.3" r="3.2" fill="#305FF6"/>
</svg>
</body></html>
